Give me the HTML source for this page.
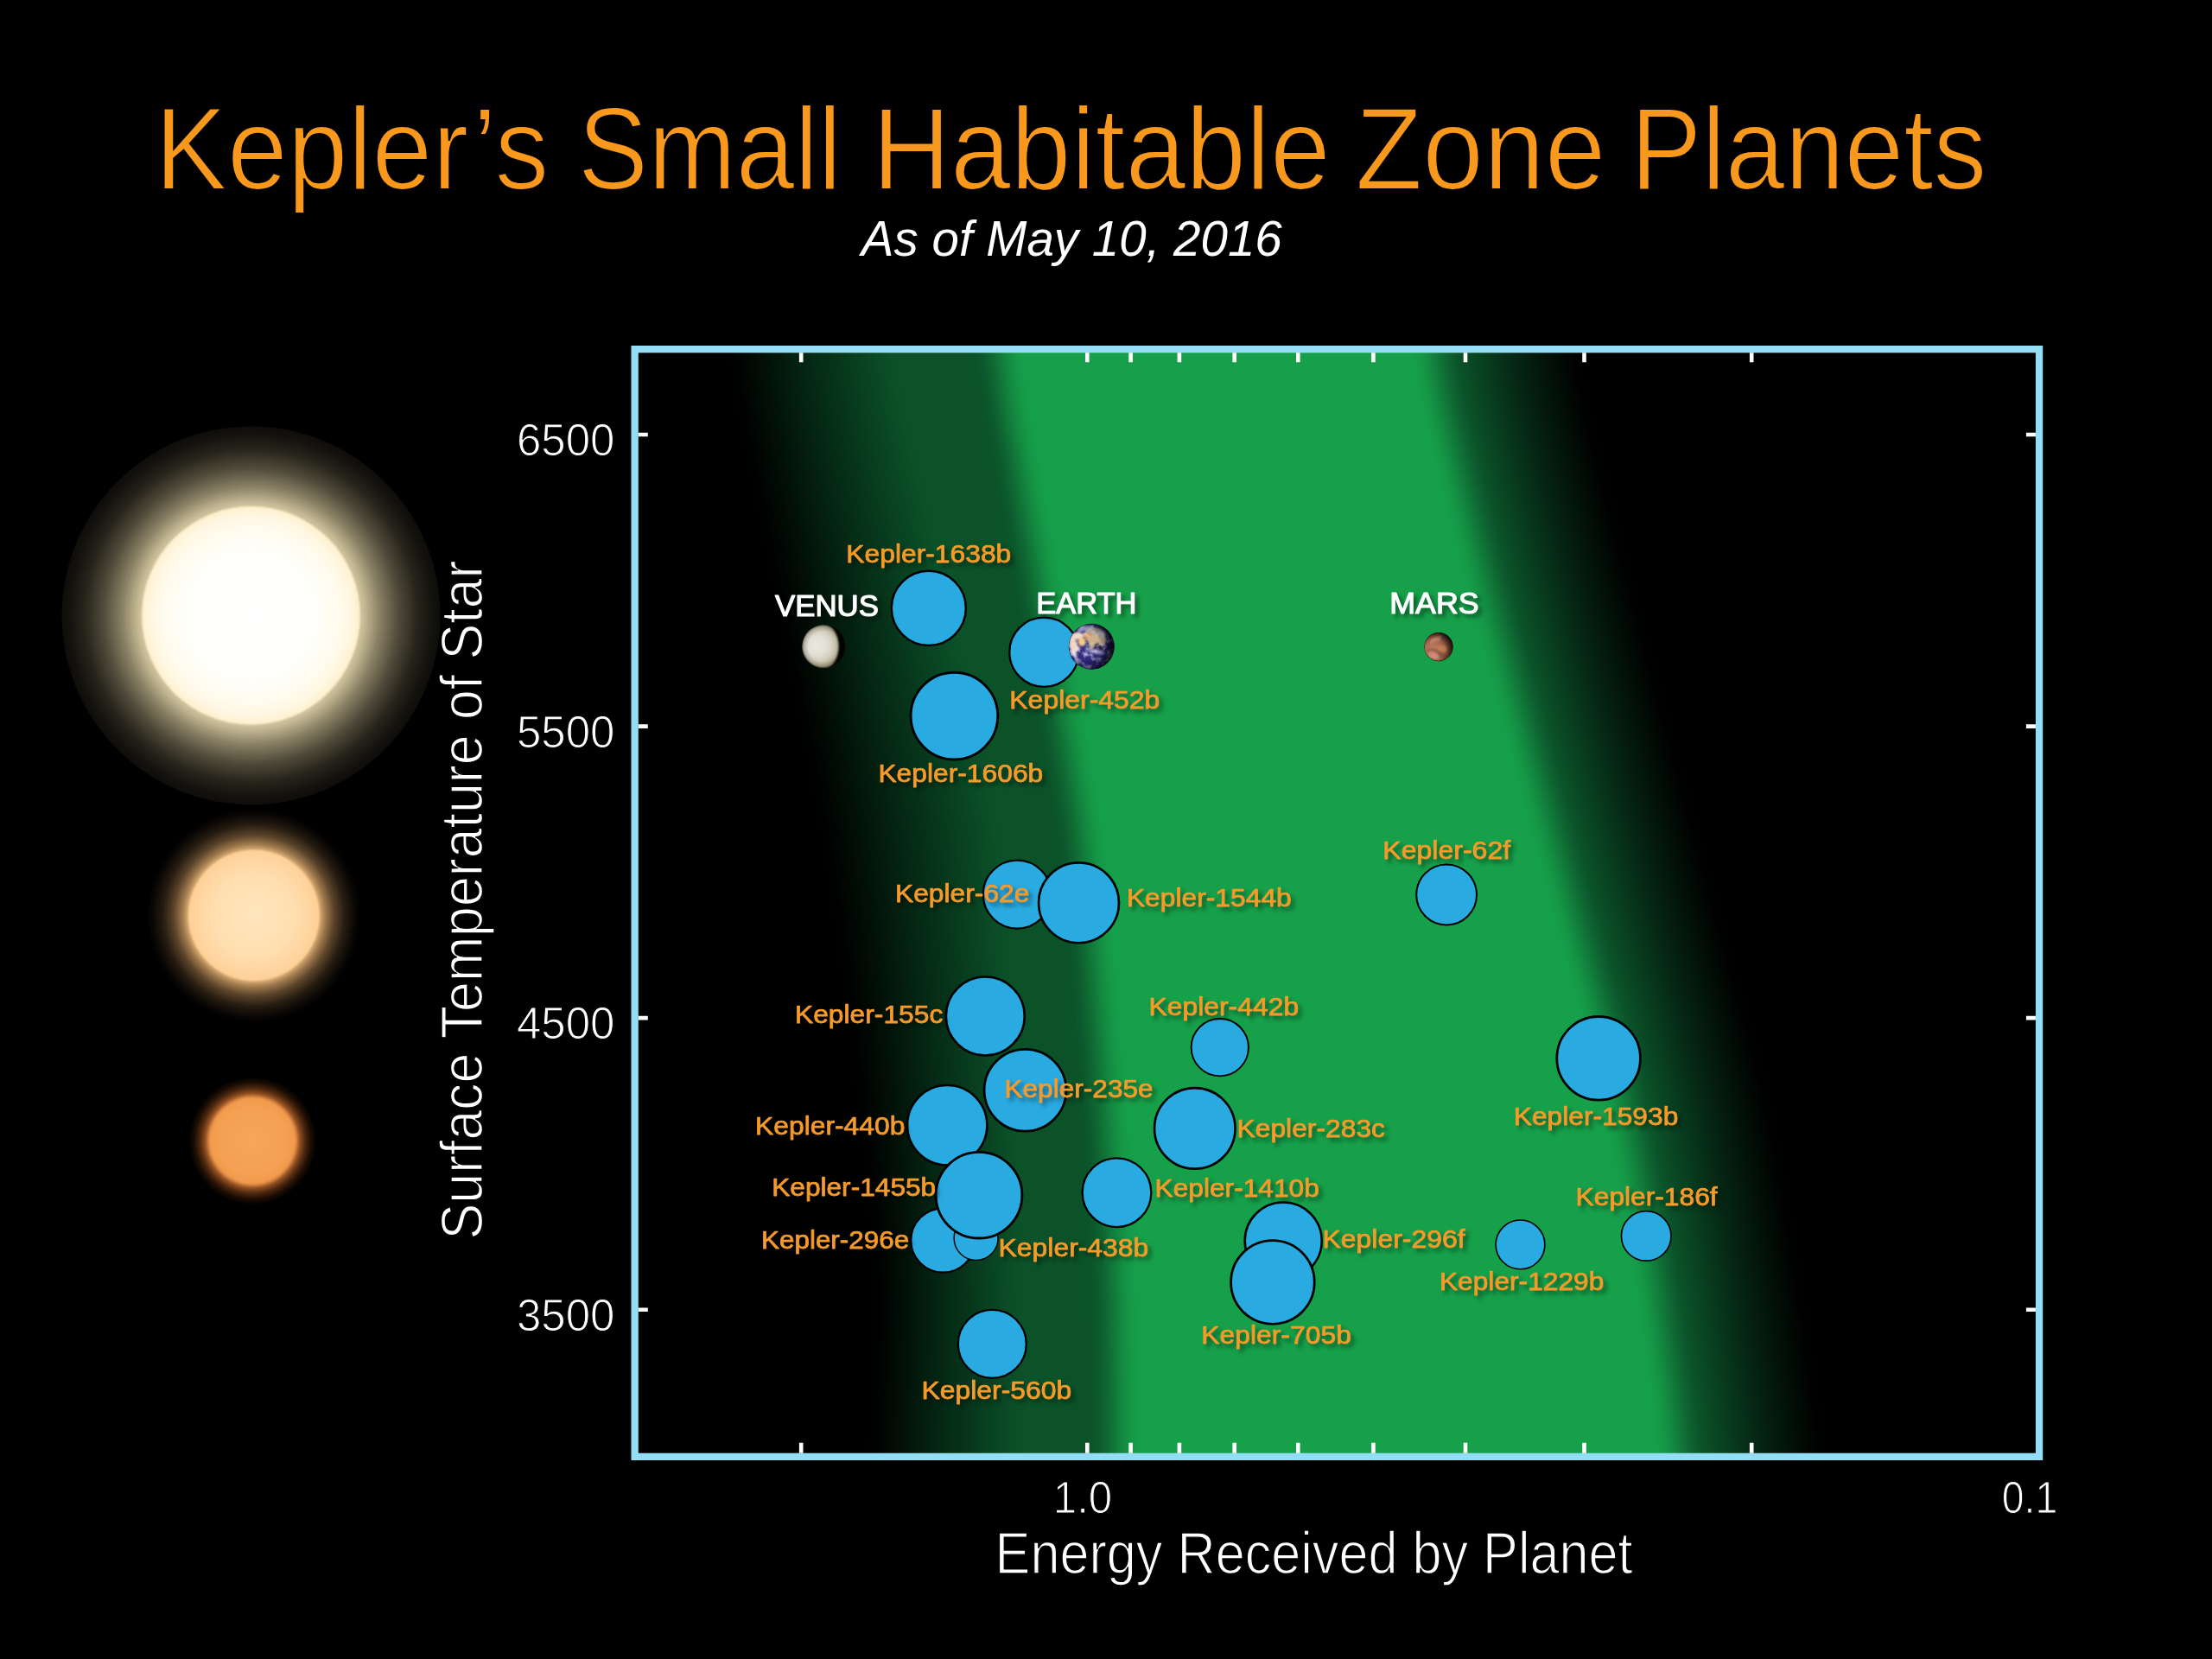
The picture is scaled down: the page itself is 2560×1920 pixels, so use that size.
<!DOCTYPE html>
<html lang="en"><head><meta charset="utf-8"><title>Kepler's Small Habitable Zone Planets</title>
<style>html,body{margin:0;padding:0;background:#000;}body{width:2560px;height:1920px;overflow:hidden;}svg{display:block;}text{font-family:"Liberation Sans",Arial,Helvetica,sans-serif;}</style>
</head><body>
<svg width="2560" height="1920" viewBox="0 0 2560 1920">
<defs>
<radialGradient id="gBigGlow" cx="290.5" cy="712.4" r="219" gradientUnits="userSpaceOnUse">
  <stop offset="0.55" stop-color="#ddd1ab"/>
  <stop offset="0.60" stop-color="#c4b994"/>
  <stop offset="0.68" stop-color="#8a8165"/>
  <stop offset="0.78" stop-color="#504b3a"/>
  <stop offset="0.88" stop-color="#27241b"/>
  <stop offset="0.96" stop-color="#14120e"/>
  <stop offset="1" stop-color="#0e0d0a"/>
</radialGradient>
<radialGradient id="gBigCore" cx="290.5" cy="712.4" r="126.3" gradientUnits="userSpaceOnUse">
  <stop offset="0" stop-color="#ffffff"/>
  <stop offset="0.55" stop-color="#fffffc"/>
  <stop offset="0.8" stop-color="#fffbee"/>
  <stop offset="0.93" stop-color="#fff6df"/>
  <stop offset="1" stop-color="#fff0cc"/>
</radialGradient>
<radialGradient id="gMidGlow" cx="293.8" cy="1059.5" r="124" gradientUnits="userSpaceOnUse">
  <stop offset="0.60" stop-color="#e6b87c"/>
  <stop offset="0.67" stop-color="#9c774b"/>
  <stop offset="0.75" stop-color="#5a432a"/>
  <stop offset="0.85" stop-color="#261c11"/>
  <stop offset="0.94" stop-color="#0b0805"/>
  <stop offset="1" stop-color="#000"/>
</radialGradient>
<radialGradient id="gMidCore" cx="293.8" cy="1059.5" r="75.8" gradientUnits="userSpaceOnUse">
  <stop offset="0" stop-color="#ffe6bd"/>
  <stop offset="0.6" stop-color="#ffdfb0"/>
  <stop offset="1" stop-color="#ffd098"/>
</radialGradient>
<radialGradient id="gSmGlow" cx="292.3" cy="1320.3" r="74" gradientUnits="userSpaceOnUse">
  <stop offset="0.64" stop-color="#e8934b"/>
  <stop offset="0.73" stop-color="#9a5525"/>
  <stop offset="0.82" stop-color="#4f290f"/>
  <stop offset="0.91" stop-color="#1d0e04"/>
  <stop offset="1" stop-color="#000"/>
</radialGradient>
<radialGradient id="gSmCore" cx="292.3" cy="1320.3" r="50.7" gradientUnits="userSpaceOnUse">
  <stop offset="0" stop-color="#f6a65a"/>
  <stop offset="0.7" stop-color="#f5a154"/>
  <stop offset="1" stop-color="#f29a4c"/>
</radialGradient>
<filter color-interpolation-filters="sRGB" id="soft1" x="-10%" y="-10%" width="120%" height="120%"><feGaussianBlur stdDeviation="1.2"/></filter>
<filter color-interpolation-filters="sRGB" id="soft2" x="-10%" y="-10%" width="120%" height="120%"><feGaussianBlur stdDeviation="2.2"/></filter>
<clipPath id="chartClip"><rect x="734" y="404" width="1627" height="1282"/></clipPath>
<filter color-interpolation-filters="sRGB" id="blurV" filterUnits="userSpaceOnUse" x="600" y="200" width="1900" height="1700"><feGaussianBlur stdDeviation="8 10"/></filter>
<filter color-interpolation-filters="sRGB" id="blurOuter" filterUnits="userSpaceOnUse" x="500" y="100" width="2100" height="1900"><feGaussianBlur stdDeviation="38 6"/></filter>
<filter color-interpolation-filters="sRGB" id="blurInner" filterUnits="userSpaceOnUse" x="500" y="100" width="2100" height="1900"><feGaussianBlur stdDeviation="11 4"/></filter>
<filter color-interpolation-filters="sRGB" id="tsh" x="-10%" y="-40%" width="125%" height="200%">
  <feGaussianBlur in="SourceAlpha" stdDeviation="2.9"/>
  <feOffset dx="3.6" dy="3.8" result="b"/>
  <feFlood flood-color="#000" flood-opacity="0.42"/>
  <feComposite in2="b" operator="in"/>
  <feMerge><feMergeNode/><feMergeNode in="SourceGraphic"/></feMerge>
</filter>

<radialGradient id="gVenusL" cx="946" cy="747" r="30" gradientUnits="userSpaceOnUse">
  <stop offset="0" stop-color="#ebe8e0"/>
  <stop offset="0.35" stop-color="#e3e0d6"/>
  <stop offset="0.6" stop-color="#d3cfbf"/>
  <stop offset="0.8" stop-color="#b7b096"/>
  <stop offset="1" stop-color="#857b5c"/>
</radialGradient>
<radialGradient id="gVenusR" cx="953.2" cy="748.2" r="25.2" gradientUnits="userSpaceOnUse">
  <stop offset="0.7" stop-color="#000" stop-opacity="0"/>
  <stop offset="0.9" stop-color="#1a1608" stop-opacity="0.18"/>
  <stop offset="1" stop-color="#000" stop-opacity="0.55"/>
</radialGradient>
<clipPath id="venusClip"><circle cx="953.2" cy="748.2" r="24.9"/></clipPath>
<filter color-interpolation-filters="sRGB" id="vblur" x="-20%" y="-20%" width="140%" height="140%"><feGaussianBlur stdDeviation="1.3"/></filter>
<clipPath id="earthClip"><circle cx="1263.3" cy="748.3" r="26.3"/></clipPath>
<clipPath id="marsClip"><circle cx="1665" cy="748.6" r="16.2"/></clipPath>
<radialGradient id="gEarthSea" cx="1256" cy="752" r="34" gradientUnits="userSpaceOnUse">
  <stop offset="0" stop-color="#33308a"/>
  <stop offset="0.6" stop-color="#2a2574"/>
  <stop offset="1" stop-color="#14113c"/>
</radialGradient>
<radialGradient id="gEarthShade" cx="1254" cy="746" r="38" gradientUnits="userSpaceOnUse">
  <stop offset="0.45" stop-color="#000" stop-opacity="0"/>
  <stop offset="0.72" stop-color="#05031a" stop-opacity="0.45"/>
  <stop offset="0.95" stop-color="#000" stop-opacity="0.9"/>
</radialGradient>
<radialGradient id="gMars" cx="1659" cy="753" r="24" gradientUnits="userSpaceOnUse">
  <stop offset="0" stop-color="#c9866c"/>
  <stop offset="0.45" stop-color="#a8694e"/>
  <stop offset="0.8" stop-color="#6e4031"/>
  <stop offset="1" stop-color="#3a2018"/>
</radialGradient>
<radialGradient id="gMarsShade" cx="1660" cy="752" r="23" gradientUnits="userSpaceOnUse">
  <stop offset="0.55" stop-color="#000" stop-opacity="0"/>
  <stop offset="0.85" stop-color="#000" stop-opacity="0.45"/>
  <stop offset="1" stop-color="#000" stop-opacity="0.8"/>
</radialGradient>
<filter color-interpolation-filters="sRGB" id="eblur" x="-20%" y="-20%" width="140%" height="140%"><feGaussianBlur stdDeviation="0.9"/></filter>
<filter color-interpolation-filters="sRGB" id="enoise" x="0" y="0" width="100%" height="100%">
  <feTurbulence type="fractalNoise" baseFrequency="0.16" numOctaves="3" seed="7" result="n"/>
  <feColorMatrix in="n" type="matrix" values="0 0 0 0 0.92  0 0 0 0 0.90  0 0 0 0 0.95  3.2 0 0 0 -1.45"/>
</filter>

<linearGradient id="bg0" gradientUnits="userSpaceOnUse" x1="700" y1="0" x2="2400" y2="0"><stop offset="0.0872" stop-color="#000"/><stop offset="0.1424" stop-color="#052b15"/><stop offset="0.1975" stop-color="#0B5229"/><stop offset="0.2566" stop-color="#0B5229"/><stop offset="0.2690" stop-color="#117a3a"/><stop offset="0.2813" stop-color="#16A04A"/><stop offset="0.5532" stop-color="#16A04A"/><stop offset="0.5662" stop-color="#117a3a"/><stop offset="0.5791" stop-color="#0B5229"/><stop offset="0.5803" stop-color="#0B5229"/><stop offset="0.6209" stop-color="#052412"/><stop offset="0.6615" stop-color="#000"/></linearGradient>
<linearGradient id="bg1" gradientUnits="userSpaceOnUse" x1="700" y1="0" x2="2400" y2="0"><stop offset="0.0883" stop-color="#000"/><stop offset="0.1435" stop-color="#052b15"/><stop offset="0.1987" stop-color="#0B5229"/><stop offset="0.2576" stop-color="#0B5229"/><stop offset="0.2700" stop-color="#117a3a"/><stop offset="0.2823" stop-color="#16A04A"/><stop offset="0.5546" stop-color="#16A04A"/><stop offset="0.5675" stop-color="#117a3a"/><stop offset="0.5805" stop-color="#0B5229"/><stop offset="0.5816" stop-color="#0B5229"/><stop offset="0.6222" stop-color="#052412"/><stop offset="0.6628" stop-color="#000"/></linearGradient>
<linearGradient id="bg2" gradientUnits="userSpaceOnUse" x1="700" y1="0" x2="2400" y2="0"><stop offset="0.0895" stop-color="#000"/><stop offset="0.1448" stop-color="#052b15"/><stop offset="0.2002" stop-color="#0B5229"/><stop offset="0.2588" stop-color="#0B5229"/><stop offset="0.2711" stop-color="#117a3a"/><stop offset="0.2835" stop-color="#16A04A"/><stop offset="0.5562" stop-color="#16A04A"/><stop offset="0.5691" stop-color="#117a3a"/><stop offset="0.5821" stop-color="#0B5229"/><stop offset="0.5832" stop-color="#0B5229"/><stop offset="0.6238" stop-color="#052412"/><stop offset="0.6644" stop-color="#000"/></linearGradient>
<linearGradient id="bg3" gradientUnits="userSpaceOnUse" x1="700" y1="0" x2="2400" y2="0"><stop offset="0.0910" stop-color="#000"/><stop offset="0.1464" stop-color="#052b15"/><stop offset="0.2019" stop-color="#0B5229"/><stop offset="0.2602" stop-color="#0B5229"/><stop offset="0.2725" stop-color="#117a3a"/><stop offset="0.2849" stop-color="#16A04A"/><stop offset="0.5581" stop-color="#16A04A"/><stop offset="0.5710" stop-color="#117a3a"/><stop offset="0.5839" stop-color="#0B5229"/><stop offset="0.5851" stop-color="#0B5229"/><stop offset="0.6257" stop-color="#052412"/><stop offset="0.6663" stop-color="#000"/></linearGradient>
<linearGradient id="bg4" gradientUnits="userSpaceOnUse" x1="700" y1="0" x2="2400" y2="0"><stop offset="0.0927" stop-color="#000"/><stop offset="0.1483" stop-color="#052b15"/><stop offset="0.2039" stop-color="#0B5229"/><stop offset="0.2618" stop-color="#0B5229"/><stop offset="0.2741" stop-color="#117a3a"/><stop offset="0.2865" stop-color="#16A04A"/><stop offset="0.5602" stop-color="#16A04A"/><stop offset="0.5731" stop-color="#117a3a"/><stop offset="0.5861" stop-color="#0B5229"/><stop offset="0.5873" stop-color="#0B5229"/><stop offset="0.6279" stop-color="#052412"/><stop offset="0.6684" stop-color="#000"/></linearGradient>
<linearGradient id="bg5" gradientUnits="userSpaceOnUse" x1="700" y1="0" x2="2400" y2="0"><stop offset="0.0946" stop-color="#000"/><stop offset="0.1503" stop-color="#052b15"/><stop offset="0.2060" stop-color="#0B5229"/><stop offset="0.2634" stop-color="#0B5229"/><stop offset="0.2758" stop-color="#117a3a"/><stop offset="0.2881" stop-color="#16A04A"/><stop offset="0.5625" stop-color="#16A04A"/><stop offset="0.5754" stop-color="#117a3a"/><stop offset="0.5884" stop-color="#0B5229"/><stop offset="0.5895" stop-color="#0B5229"/><stop offset="0.6301" stop-color="#052412"/><stop offset="0.6707" stop-color="#000"/></linearGradient>
<linearGradient id="bg6" gradientUnits="userSpaceOnUse" x1="700" y1="0" x2="2400" y2="0"><stop offset="0.0965" stop-color="#000"/><stop offset="0.1523" stop-color="#052b15"/><stop offset="0.2082" stop-color="#0B5229"/><stop offset="0.2651" stop-color="#0B5229"/><stop offset="0.2775" stop-color="#117a3a"/><stop offset="0.2898" stop-color="#16A04A"/><stop offset="0.5648" stop-color="#16A04A"/><stop offset="0.5777" stop-color="#117a3a"/><stop offset="0.5906" stop-color="#0B5229"/><stop offset="0.5918" stop-color="#0B5229"/><stop offset="0.6324" stop-color="#052412"/><stop offset="0.6730" stop-color="#000"/></linearGradient>
<linearGradient id="bg7" gradientUnits="userSpaceOnUse" x1="700" y1="0" x2="2400" y2="0"><stop offset="0.0984" stop-color="#000"/><stop offset="0.1544" stop-color="#052b15"/><stop offset="0.2105" stop-color="#0B5229"/><stop offset="0.2668" stop-color="#0B5229"/><stop offset="0.2792" stop-color="#117a3a"/><stop offset="0.2915" stop-color="#16A04A"/><stop offset="0.5670" stop-color="#16A04A"/><stop offset="0.5800" stop-color="#117a3a"/><stop offset="0.5929" stop-color="#0B5229"/><stop offset="0.5941" stop-color="#0B5229"/><stop offset="0.6347" stop-color="#052412"/><stop offset="0.6753" stop-color="#000"/></linearGradient>
<linearGradient id="bg8" gradientUnits="userSpaceOnUse" x1="700" y1="0" x2="2400" y2="0"><stop offset="0.1004" stop-color="#000"/><stop offset="0.1565" stop-color="#052b15"/><stop offset="0.2127" stop-color="#0B5229"/><stop offset="0.2685" stop-color="#0B5229"/><stop offset="0.2809" stop-color="#117a3a"/><stop offset="0.2932" stop-color="#16A04A"/><stop offset="0.5694" stop-color="#16A04A"/><stop offset="0.5823" stop-color="#117a3a"/><stop offset="0.5952" stop-color="#0B5229"/><stop offset="0.5964" stop-color="#0B5229"/><stop offset="0.6370" stop-color="#052412"/><stop offset="0.6776" stop-color="#000"/></linearGradient>
<linearGradient id="bg9" gradientUnits="userSpaceOnUse" x1="700" y1="0" x2="2400" y2="0"><stop offset="0.1023" stop-color="#000"/><stop offset="0.1586" stop-color="#052b15"/><stop offset="0.2150" stop-color="#0B5229"/><stop offset="0.2702" stop-color="#0B5229"/><stop offset="0.2826" stop-color="#117a3a"/><stop offset="0.2949" stop-color="#16A04A"/><stop offset="0.5717" stop-color="#16A04A"/><stop offset="0.5846" stop-color="#117a3a"/><stop offset="0.5976" stop-color="#0B5229"/><stop offset="0.5987" stop-color="#0B5229"/><stop offset="0.6393" stop-color="#052412"/><stop offset="0.6799" stop-color="#000"/></linearGradient>
<linearGradient id="bg10" gradientUnits="userSpaceOnUse" x1="700" y1="0" x2="2400" y2="0"><stop offset="0.1042" stop-color="#000"/><stop offset="0.1607" stop-color="#052b15"/><stop offset="0.2173" stop-color="#0B5229"/><stop offset="0.2719" stop-color="#0B5229"/><stop offset="0.2842" stop-color="#117a3a"/><stop offset="0.2966" stop-color="#16A04A"/><stop offset="0.5740" stop-color="#16A04A"/><stop offset="0.5870" stop-color="#117a3a"/><stop offset="0.5999" stop-color="#0B5229"/><stop offset="0.6011" stop-color="#0B5229"/><stop offset="0.6417" stop-color="#052412"/><stop offset="0.6823" stop-color="#000"/></linearGradient>
<linearGradient id="bg11" gradientUnits="userSpaceOnUse" x1="700" y1="0" x2="2400" y2="0"><stop offset="0.1062" stop-color="#000"/><stop offset="0.1628" stop-color="#052b15"/><stop offset="0.2195" stop-color="#0B5229"/><stop offset="0.2735" stop-color="#0B5229"/><stop offset="0.2859" stop-color="#117a3a"/><stop offset="0.2982" stop-color="#16A04A"/><stop offset="0.5764" stop-color="#16A04A"/><stop offset="0.5893" stop-color="#117a3a"/><stop offset="0.6023" stop-color="#0B5229"/><stop offset="0.6035" stop-color="#0B5229"/><stop offset="0.6441" stop-color="#052412"/><stop offset="0.6846" stop-color="#000"/></linearGradient>
<linearGradient id="bg12" gradientUnits="userSpaceOnUse" x1="700" y1="0" x2="2400" y2="0"><stop offset="0.1081" stop-color="#000"/><stop offset="0.1649" stop-color="#052b15"/><stop offset="0.2218" stop-color="#0B5229"/><stop offset="0.2752" stop-color="#0B5229"/><stop offset="0.2875" stop-color="#117a3a"/><stop offset="0.2999" stop-color="#16A04A"/><stop offset="0.5788" stop-color="#16A04A"/><stop offset="0.5917" stop-color="#117a3a"/><stop offset="0.6047" stop-color="#0B5229"/><stop offset="0.6059" stop-color="#0B5229"/><stop offset="0.6464" stop-color="#052412"/><stop offset="0.6870" stop-color="#000"/></linearGradient>
<linearGradient id="bg13" gradientUnits="userSpaceOnUse" x1="700" y1="0" x2="2400" y2="0"><stop offset="0.1100" stop-color="#000"/><stop offset="0.1670" stop-color="#052b15"/><stop offset="0.2240" stop-color="#0B5229"/><stop offset="0.2768" stop-color="#0B5229"/><stop offset="0.2892" stop-color="#117a3a"/><stop offset="0.3015" stop-color="#16A04A"/><stop offset="0.5812" stop-color="#16A04A"/><stop offset="0.5941" stop-color="#117a3a"/><stop offset="0.6071" stop-color="#0B5229"/><stop offset="0.6083" stop-color="#0B5229"/><stop offset="0.6489" stop-color="#052412"/><stop offset="0.6894" stop-color="#000"/></linearGradient>
<linearGradient id="bg14" gradientUnits="userSpaceOnUse" x1="700" y1="0" x2="2400" y2="0"><stop offset="0.1119" stop-color="#000"/><stop offset="0.1691" stop-color="#052b15"/><stop offset="0.2263" stop-color="#0B5229"/><stop offset="0.2785" stop-color="#0B5229"/><stop offset="0.2908" stop-color="#117a3a"/><stop offset="0.3032" stop-color="#16A04A"/><stop offset="0.5836" stop-color="#16A04A"/><stop offset="0.5966" stop-color="#117a3a"/><stop offset="0.6095" stop-color="#0B5229"/><stop offset="0.6107" stop-color="#0B5229"/><stop offset="0.6513" stop-color="#052412"/><stop offset="0.6919" stop-color="#000"/></linearGradient>
<linearGradient id="bg15" gradientUnits="userSpaceOnUse" x1="700" y1="0" x2="2400" y2="0"><stop offset="0.1138" stop-color="#000"/><stop offset="0.1712" stop-color="#052b15"/><stop offset="0.2286" stop-color="#0B5229"/><stop offset="0.2801" stop-color="#0B5229"/><stop offset="0.2924" stop-color="#117a3a"/><stop offset="0.3048" stop-color="#16A04A"/><stop offset="0.5861" stop-color="#16A04A"/><stop offset="0.5990" stop-color="#117a3a"/><stop offset="0.6120" stop-color="#0B5229"/><stop offset="0.6131" stop-color="#0B5229"/><stop offset="0.6537" stop-color="#052412"/><stop offset="0.6943" stop-color="#000"/></linearGradient>
<linearGradient id="bg16" gradientUnits="userSpaceOnUse" x1="700" y1="0" x2="2400" y2="0"><stop offset="0.1157" stop-color="#000"/><stop offset="0.1732" stop-color="#052b15"/><stop offset="0.2308" stop-color="#0B5229"/><stop offset="0.2817" stop-color="#0B5229"/><stop offset="0.2941" stop-color="#117a3a"/><stop offset="0.3064" stop-color="#16A04A"/><stop offset="0.5885" stop-color="#16A04A"/><stop offset="0.6015" stop-color="#117a3a"/><stop offset="0.6144" stop-color="#0B5229"/><stop offset="0.6156" stop-color="#0B5229"/><stop offset="0.6562" stop-color="#052412"/><stop offset="0.6968" stop-color="#000"/></linearGradient>
<linearGradient id="bg17" gradientUnits="userSpaceOnUse" x1="700" y1="0" x2="2400" y2="0"><stop offset="0.1176" stop-color="#000"/><stop offset="0.1753" stop-color="#052b15"/><stop offset="0.2330" stop-color="#0B5229"/><stop offset="0.2833" stop-color="#0B5229"/><stop offset="0.2957" stop-color="#117a3a"/><stop offset="0.3080" stop-color="#16A04A"/><stop offset="0.5910" stop-color="#16A04A"/><stop offset="0.6039" stop-color="#117a3a"/><stop offset="0.6169" stop-color="#0B5229"/><stop offset="0.6181" stop-color="#0B5229"/><stop offset="0.6586" stop-color="#052412"/><stop offset="0.6992" stop-color="#000"/></linearGradient>
<linearGradient id="bg18" gradientUnits="userSpaceOnUse" x1="700" y1="0" x2="2400" y2="0"><stop offset="0.1195" stop-color="#000"/><stop offset="0.1773" stop-color="#052b15"/><stop offset="0.2352" stop-color="#0B5229"/><stop offset="0.2850" stop-color="#0B5229"/><stop offset="0.2973" stop-color="#117a3a"/><stop offset="0.3097" stop-color="#16A04A"/><stop offset="0.5934" stop-color="#16A04A"/><stop offset="0.6064" stop-color="#117a3a"/><stop offset="0.6193" stop-color="#0B5229"/><stop offset="0.6205" stop-color="#0B5229"/><stop offset="0.6611" stop-color="#052412"/><stop offset="0.7017" stop-color="#000"/></linearGradient>
<linearGradient id="bg19" gradientUnits="userSpaceOnUse" x1="700" y1="0" x2="2400" y2="0"><stop offset="0.1214" stop-color="#000"/><stop offset="0.1793" stop-color="#052b15"/><stop offset="0.2373" stop-color="#0B5229"/><stop offset="0.2866" stop-color="#0B5229"/><stop offset="0.2989" stop-color="#117a3a"/><stop offset="0.3113" stop-color="#16A04A"/><stop offset="0.5959" stop-color="#16A04A"/><stop offset="0.6088" stop-color="#117a3a"/><stop offset="0.6218" stop-color="#0B5229"/><stop offset="0.6230" stop-color="#0B5229"/><stop offset="0.6635" stop-color="#052412"/><stop offset="0.7041" stop-color="#000"/></linearGradient>
<linearGradient id="bg20" gradientUnits="userSpaceOnUse" x1="700" y1="0" x2="2400" y2="0"><stop offset="0.1232" stop-color="#000"/><stop offset="0.1813" stop-color="#052b15"/><stop offset="0.2394" stop-color="#0B5229"/><stop offset="0.2882" stop-color="#0B5229"/><stop offset="0.3005" stop-color="#117a3a"/><stop offset="0.3129" stop-color="#16A04A"/><stop offset="0.5984" stop-color="#16A04A"/><stop offset="0.6113" stop-color="#117a3a"/><stop offset="0.6242" stop-color="#0B5229"/><stop offset="0.6254" stop-color="#0B5229"/><stop offset="0.6660" stop-color="#052412"/><stop offset="0.7066" stop-color="#000"/></linearGradient>
<linearGradient id="bg21" gradientUnits="userSpaceOnUse" x1="700" y1="0" x2="2400" y2="0"><stop offset="0.1251" stop-color="#000"/><stop offset="0.1833" stop-color="#052b15"/><stop offset="0.2416" stop-color="#0B5229"/><stop offset="0.2898" stop-color="#0B5229"/><stop offset="0.3022" stop-color="#117a3a"/><stop offset="0.3145" stop-color="#16A04A"/><stop offset="0.6008" stop-color="#16A04A"/><stop offset="0.6138" stop-color="#117a3a"/><stop offset="0.6267" stop-color="#0B5229"/><stop offset="0.6279" stop-color="#0B5229"/><stop offset="0.6685" stop-color="#052412"/><stop offset="0.7090" stop-color="#000"/></linearGradient>
<linearGradient id="bg22" gradientUnits="userSpaceOnUse" x1="700" y1="0" x2="2400" y2="0"><stop offset="0.1270" stop-color="#000"/><stop offset="0.1853" stop-color="#052b15"/><stop offset="0.2436" stop-color="#0B5229"/><stop offset="0.2914" stop-color="#0B5229"/><stop offset="0.3038" stop-color="#117a3a"/><stop offset="0.3161" stop-color="#16A04A"/><stop offset="0.6033" stop-color="#16A04A"/><stop offset="0.6162" stop-color="#117a3a"/><stop offset="0.6291" stop-color="#0B5229"/><stop offset="0.6303" stop-color="#0B5229"/><stop offset="0.6709" stop-color="#052412"/><stop offset="0.7115" stop-color="#000"/></linearGradient>
<linearGradient id="bg23" gradientUnits="userSpaceOnUse" x1="700" y1="0" x2="2400" y2="0"><stop offset="0.1289" stop-color="#000"/><stop offset="0.1873" stop-color="#052b15"/><stop offset="0.2457" stop-color="#0B5229"/><stop offset="0.2931" stop-color="#0B5229"/><stop offset="0.3054" stop-color="#117a3a"/><stop offset="0.3178" stop-color="#16A04A"/><stop offset="0.6057" stop-color="#16A04A"/><stop offset="0.6187" stop-color="#117a3a"/><stop offset="0.6316" stop-color="#0B5229"/><stop offset="0.6328" stop-color="#0B5229"/><stop offset="0.6734" stop-color="#052412"/><stop offset="0.7140" stop-color="#000"/></linearGradient>
<linearGradient id="bg24" gradientUnits="userSpaceOnUse" x1="700" y1="0" x2="2400" y2="0"><stop offset="0.1307" stop-color="#000"/><stop offset="0.1893" stop-color="#052b15"/><stop offset="0.2478" stop-color="#0B5229"/><stop offset="0.2947" stop-color="#0B5229"/><stop offset="0.3070" stop-color="#117a3a"/><stop offset="0.3194" stop-color="#16A04A"/><stop offset="0.6082" stop-color="#16A04A"/><stop offset="0.6211" stop-color="#117a3a"/><stop offset="0.6341" stop-color="#0B5229"/><stop offset="0.6352" stop-color="#0B5229"/><stop offset="0.6758" stop-color="#052412"/><stop offset="0.7164" stop-color="#000"/></linearGradient>
<linearGradient id="bg25" gradientUnits="userSpaceOnUse" x1="700" y1="0" x2="2400" y2="0"><stop offset="0.1326" stop-color="#000"/><stop offset="0.1912" stop-color="#052b15"/><stop offset="0.2499" stop-color="#0B5229"/><stop offset="0.2963" stop-color="#0B5229"/><stop offset="0.3087" stop-color="#117a3a"/><stop offset="0.3210" stop-color="#16A04A"/><stop offset="0.6106" stop-color="#16A04A"/><stop offset="0.6236" stop-color="#117a3a"/><stop offset="0.6365" stop-color="#0B5229"/><stop offset="0.6377" stop-color="#0B5229"/><stop offset="0.6783" stop-color="#052412"/><stop offset="0.7189" stop-color="#000"/></linearGradient>
<linearGradient id="bg26" gradientUnits="userSpaceOnUse" x1="700" y1="0" x2="2400" y2="0"><stop offset="0.1344" stop-color="#000"/><stop offset="0.1932" stop-color="#052b15"/><stop offset="0.2519" stop-color="#0B5229"/><stop offset="0.2980" stop-color="#0B5229"/><stop offset="0.3103" stop-color="#117a3a"/><stop offset="0.3227" stop-color="#16A04A"/><stop offset="0.6131" stop-color="#16A04A"/><stop offset="0.6260" stop-color="#117a3a"/><stop offset="0.6390" stop-color="#0B5229"/><stop offset="0.6401" stop-color="#0B5229"/><stop offset="0.6807" stop-color="#052412"/><stop offset="0.7213" stop-color="#000"/></linearGradient>
<linearGradient id="bg27" gradientUnits="userSpaceOnUse" x1="700" y1="0" x2="2400" y2="0"><stop offset="0.1363" stop-color="#000"/><stop offset="0.1951" stop-color="#052b15"/><stop offset="0.2540" stop-color="#0B5229"/><stop offset="0.2997" stop-color="#0B5229"/><stop offset="0.3120" stop-color="#117a3a"/><stop offset="0.3244" stop-color="#16A04A"/><stop offset="0.6156" stop-color="#16A04A"/><stop offset="0.6285" stop-color="#117a3a"/><stop offset="0.6414" stop-color="#0B5229"/><stop offset="0.6426" stop-color="#0B5229"/><stop offset="0.6832" stop-color="#052412"/><stop offset="0.7238" stop-color="#000"/></linearGradient>
<linearGradient id="bg28" gradientUnits="userSpaceOnUse" x1="700" y1="0" x2="2400" y2="0"><stop offset="0.1381" stop-color="#000"/><stop offset="0.1971" stop-color="#052b15"/><stop offset="0.2561" stop-color="#0B5229"/><stop offset="0.3013" stop-color="#0B5229"/><stop offset="0.3137" stop-color="#117a3a"/><stop offset="0.3261" stop-color="#16A04A"/><stop offset="0.6180" stop-color="#16A04A"/><stop offset="0.6310" stop-color="#117a3a"/><stop offset="0.6439" stop-color="#0B5229"/><stop offset="0.6451" stop-color="#0B5229"/><stop offset="0.6857" stop-color="#052412"/><stop offset="0.7263" stop-color="#000"/></linearGradient>
<linearGradient id="bg29" gradientUnits="userSpaceOnUse" x1="700" y1="0" x2="2400" y2="0"><stop offset="0.1399" stop-color="#000"/><stop offset="0.1990" stop-color="#052b15"/><stop offset="0.2582" stop-color="#0B5229"/><stop offset="0.3031" stop-color="#0B5229"/><stop offset="0.3154" stop-color="#117a3a"/><stop offset="0.3278" stop-color="#16A04A"/><stop offset="0.6205" stop-color="#16A04A"/><stop offset="0.6335" stop-color="#117a3a"/><stop offset="0.6464" stop-color="#0B5229"/><stop offset="0.6476" stop-color="#0B5229"/><stop offset="0.6882" stop-color="#052412"/><stop offset="0.7287" stop-color="#000"/></linearGradient>
<linearGradient id="bg30" gradientUnits="userSpaceOnUse" x1="700" y1="0" x2="2400" y2="0"><stop offset="0.1417" stop-color="#000"/><stop offset="0.2010" stop-color="#052b15"/><stop offset="0.2602" stop-color="#0B5229"/><stop offset="0.3048" stop-color="#0B5229"/><stop offset="0.3171" stop-color="#117a3a"/><stop offset="0.3295" stop-color="#16A04A"/><stop offset="0.6230" stop-color="#16A04A"/><stop offset="0.6359" stop-color="#117a3a"/><stop offset="0.6489" stop-color="#0B5229"/><stop offset="0.6501" stop-color="#0B5229"/><stop offset="0.6906" stop-color="#052412"/><stop offset="0.7312" stop-color="#000"/></linearGradient>
<linearGradient id="bg31" gradientUnits="userSpaceOnUse" x1="700" y1="0" x2="2400" y2="0"><stop offset="0.1435" stop-color="#000"/><stop offset="0.2028" stop-color="#052b15"/><stop offset="0.2621" stop-color="#0B5229"/><stop offset="0.3064" stop-color="#0B5229"/><stop offset="0.3188" stop-color="#117a3a"/><stop offset="0.3311" stop-color="#16A04A"/><stop offset="0.6255" stop-color="#16A04A"/><stop offset="0.6384" stop-color="#117a3a"/><stop offset="0.6514" stop-color="#0B5229"/><stop offset="0.6526" stop-color="#0B5229"/><stop offset="0.6931" stop-color="#052412"/><stop offset="0.7337" stop-color="#000"/></linearGradient>
<linearGradient id="bg32" gradientUnits="userSpaceOnUse" x1="700" y1="0" x2="2400" y2="0"><stop offset="0.1452" stop-color="#000"/><stop offset="0.2045" stop-color="#052b15"/><stop offset="0.2638" stop-color="#0B5229"/><stop offset="0.3080" stop-color="#0B5229"/><stop offset="0.3203" stop-color="#117a3a"/><stop offset="0.3327" stop-color="#16A04A"/><stop offset="0.6280" stop-color="#16A04A"/><stop offset="0.6409" stop-color="#117a3a"/><stop offset="0.6539" stop-color="#0B5229"/><stop offset="0.6551" stop-color="#0B5229"/><stop offset="0.6956" stop-color="#052412"/><stop offset="0.7362" stop-color="#000"/></linearGradient>
<linearGradient id="bg33" gradientUnits="userSpaceOnUse" x1="700" y1="0" x2="2400" y2="0"><stop offset="0.1469" stop-color="#000"/><stop offset="0.2062" stop-color="#052b15"/><stop offset="0.2654" stop-color="#0B5229"/><stop offset="0.3094" stop-color="#0B5229"/><stop offset="0.3218" stop-color="#117a3a"/><stop offset="0.3341" stop-color="#16A04A"/><stop offset="0.6305" stop-color="#16A04A"/><stop offset="0.6434" stop-color="#117a3a"/><stop offset="0.6564" stop-color="#0B5229"/><stop offset="0.6576" stop-color="#0B5229"/><stop offset="0.6982" stop-color="#052412"/><stop offset="0.7387" stop-color="#000"/></linearGradient>
<linearGradient id="bg34" gradientUnits="userSpaceOnUse" x1="700" y1="0" x2="2400" y2="0"><stop offset="0.1486" stop-color="#000"/><stop offset="0.2077" stop-color="#052b15"/><stop offset="0.2669" stop-color="#0B5229"/><stop offset="0.3108" stop-color="#0B5229"/><stop offset="0.3231" stop-color="#117a3a"/><stop offset="0.3355" stop-color="#16A04A"/><stop offset="0.6330" stop-color="#16A04A"/><stop offset="0.6460" stop-color="#117a3a"/><stop offset="0.6589" stop-color="#0B5229"/><stop offset="0.6601" stop-color="#0B5229"/><stop offset="0.7007" stop-color="#052412"/><stop offset="0.7413" stop-color="#000"/></linearGradient>
<linearGradient id="bg35" gradientUnits="userSpaceOnUse" x1="700" y1="0" x2="2400" y2="0"><stop offset="0.1502" stop-color="#000"/><stop offset="0.2092" stop-color="#052b15"/><stop offset="0.2681" stop-color="#0B5229"/><stop offset="0.3121" stop-color="#0B5229"/><stop offset="0.3244" stop-color="#117a3a"/><stop offset="0.3368" stop-color="#16A04A"/><stop offset="0.6355" stop-color="#16A04A"/><stop offset="0.6485" stop-color="#117a3a"/><stop offset="0.6614" stop-color="#0B5229"/><stop offset="0.6626" stop-color="#0B5229"/><stop offset="0.7032" stop-color="#052412"/><stop offset="0.7438" stop-color="#000"/></linearGradient>
<linearGradient id="bg36" gradientUnits="userSpaceOnUse" x1="700" y1="0" x2="2400" y2="0"><stop offset="0.1518" stop-color="#000"/><stop offset="0.2105" stop-color="#052b15"/><stop offset="0.2693" stop-color="#0B5229"/><stop offset="0.3132" stop-color="#0B5229"/><stop offset="0.3256" stop-color="#117a3a"/><stop offset="0.3379" stop-color="#16A04A"/><stop offset="0.6380" stop-color="#16A04A"/><stop offset="0.6510" stop-color="#117a3a"/><stop offset="0.6639" stop-color="#0B5229"/><stop offset="0.6651" stop-color="#0B5229"/><stop offset="0.7057" stop-color="#052412"/><stop offset="0.7463" stop-color="#000"/></linearGradient>
<linearGradient id="bg37" gradientUnits="userSpaceOnUse" x1="700" y1="0" x2="2400" y2="0"><stop offset="0.1534" stop-color="#000"/><stop offset="0.2118" stop-color="#052b15"/><stop offset="0.2702" stop-color="#0B5229"/><stop offset="0.3142" stop-color="#0B5229"/><stop offset="0.3266" stop-color="#117a3a"/><stop offset="0.3389" stop-color="#16A04A"/><stop offset="0.6405" stop-color="#16A04A"/><stop offset="0.6535" stop-color="#117a3a"/><stop offset="0.6664" stop-color="#0B5229"/><stop offset="0.6676" stop-color="#0B5229"/><stop offset="0.7082" stop-color="#052412"/><stop offset="0.7488" stop-color="#000"/></linearGradient>
<linearGradient id="bg38" gradientUnits="userSpaceOnUse" x1="700" y1="0" x2="2400" y2="0"><stop offset="0.1549" stop-color="#000"/><stop offset="0.2130" stop-color="#052b15"/><stop offset="0.2710" stop-color="#0B5229"/><stop offset="0.3151" stop-color="#0B5229"/><stop offset="0.3275" stop-color="#117a3a"/><stop offset="0.3398" stop-color="#16A04A"/><stop offset="0.6431" stop-color="#16A04A"/><stop offset="0.6560" stop-color="#117a3a"/><stop offset="0.6689" stop-color="#0B5229"/><stop offset="0.6701" stop-color="#0B5229"/><stop offset="0.7107" stop-color="#052412"/><stop offset="0.7513" stop-color="#000"/></linearGradient>
<linearGradient id="bg39" gradientUnits="userSpaceOnUse" x1="700" y1="0" x2="2400" y2="0"><stop offset="0.1564" stop-color="#000"/><stop offset="0.2141" stop-color="#052b15"/><stop offset="0.2718" stop-color="#0B5229"/><stop offset="0.3160" stop-color="#0B5229"/><stop offset="0.3283" stop-color="#117a3a"/><stop offset="0.3407" stop-color="#16A04A"/><stop offset="0.6456" stop-color="#16A04A"/><stop offset="0.6585" stop-color="#117a3a"/><stop offset="0.6714" stop-color="#0B5229"/><stop offset="0.6726" stop-color="#0B5229"/><stop offset="0.7132" stop-color="#052412"/><stop offset="0.7538" stop-color="#000"/></linearGradient>
<linearGradient id="bg40" gradientUnits="userSpaceOnUse" x1="700" y1="0" x2="2400" y2="0"><stop offset="0.1579" stop-color="#000"/><stop offset="0.2152" stop-color="#052b15"/><stop offset="0.2726" stop-color="#0B5229"/><stop offset="0.3168" stop-color="#0B5229"/><stop offset="0.3291" stop-color="#117a3a"/><stop offset="0.3415" stop-color="#16A04A"/><stop offset="0.6481" stop-color="#16A04A"/><stop offset="0.6610" stop-color="#117a3a"/><stop offset="0.6740" stop-color="#0B5229"/><stop offset="0.6751" stop-color="#0B5229"/><stop offset="0.7157" stop-color="#052412"/><stop offset="0.7563" stop-color="#000"/></linearGradient>
<linearGradient id="bg41" gradientUnits="userSpaceOnUse" x1="700" y1="0" x2="2400" y2="0"><stop offset="0.1593" stop-color="#000"/><stop offset="0.2163" stop-color="#052b15"/><stop offset="0.2733" stop-color="#0B5229"/><stop offset="0.3176" stop-color="#0B5229"/><stop offset="0.3299" stop-color="#117a3a"/><stop offset="0.3423" stop-color="#16A04A"/><stop offset="0.6506" stop-color="#16A04A"/><stop offset="0.6635" stop-color="#117a3a"/><stop offset="0.6765" stop-color="#0B5229"/><stop offset="0.6777" stop-color="#0B5229"/><stop offset="0.7182" stop-color="#052412"/><stop offset="0.7588" stop-color="#000"/></linearGradient>
<linearGradient id="bg42" gradientUnits="userSpaceOnUse" x1="700" y1="0" x2="2400" y2="0"><stop offset="0.1607" stop-color="#000"/><stop offset="0.2173" stop-color="#052b15"/><stop offset="0.2739" stop-color="#0B5229"/><stop offset="0.3183" stop-color="#0B5229"/><stop offset="0.3307" stop-color="#117a3a"/><stop offset="0.3430" stop-color="#16A04A"/><stop offset="0.6531" stop-color="#16A04A"/><stop offset="0.6661" stop-color="#117a3a"/><stop offset="0.6790" stop-color="#0B5229"/><stop offset="0.6802" stop-color="#0B5229"/><stop offset="0.7208" stop-color="#052412"/><stop offset="0.7614" stop-color="#000"/></linearGradient>
<linearGradient id="bg43" gradientUnits="userSpaceOnUse" x1="700" y1="0" x2="2400" y2="0"><stop offset="0.1620" stop-color="#000"/><stop offset="0.2183" stop-color="#052b15"/><stop offset="0.2745" stop-color="#0B5229"/><stop offset="0.3191" stop-color="#0B5229"/><stop offset="0.3314" stop-color="#117a3a"/><stop offset="0.3438" stop-color="#16A04A"/><stop offset="0.6557" stop-color="#16A04A"/><stop offset="0.6687" stop-color="#117a3a"/><stop offset="0.6816" stop-color="#0B5229"/><stop offset="0.6828" stop-color="#0B5229"/><stop offset="0.7234" stop-color="#052412"/><stop offset="0.7640" stop-color="#000"/></linearGradient>
<linearGradient id="bg44" gradientUnits="userSpaceOnUse" x1="700" y1="0" x2="2400" y2="0"><stop offset="0.1633" stop-color="#000"/><stop offset="0.2192" stop-color="#052b15"/><stop offset="0.2751" stop-color="#0B5229"/><stop offset="0.3198" stop-color="#0B5229"/><stop offset="0.3322" stop-color="#117a3a"/><stop offset="0.3445" stop-color="#16A04A"/><stop offset="0.6583" stop-color="#16A04A"/><stop offset="0.6712" stop-color="#117a3a"/><stop offset="0.6842" stop-color="#0B5229"/><stop offset="0.6854" stop-color="#0B5229"/><stop offset="0.7260" stop-color="#052412"/><stop offset="0.7665" stop-color="#000"/></linearGradient>
<linearGradient id="bg45" gradientUnits="userSpaceOnUse" x1="700" y1="0" x2="2400" y2="0"><stop offset="0.1645" stop-color="#000"/><stop offset="0.2201" stop-color="#052b15"/><stop offset="0.2756" stop-color="#0B5229"/><stop offset="0.3206" stop-color="#0B5229"/><stop offset="0.3330" stop-color="#117a3a"/><stop offset="0.3453" stop-color="#16A04A"/><stop offset="0.6609" stop-color="#16A04A"/><stop offset="0.6739" stop-color="#117a3a"/><stop offset="0.6868" stop-color="#0B5229"/><stop offset="0.6880" stop-color="#0B5229"/><stop offset="0.7286" stop-color="#052412"/><stop offset="0.7692" stop-color="#000"/></linearGradient>
<linearGradient id="bg46" gradientUnits="userSpaceOnUse" x1="700" y1="0" x2="2400" y2="0"><stop offset="0.1657" stop-color="#000"/><stop offset="0.2209" stop-color="#052b15"/><stop offset="0.2761" stop-color="#0B5229"/><stop offset="0.3214" stop-color="#0B5229"/><stop offset="0.3337" stop-color="#117a3a"/><stop offset="0.3461" stop-color="#16A04A"/><stop offset="0.6636" stop-color="#16A04A"/><stop offset="0.6765" stop-color="#117a3a"/><stop offset="0.6894" stop-color="#0B5229"/><stop offset="0.6906" stop-color="#0B5229"/><stop offset="0.7312" stop-color="#052412"/><stop offset="0.7718" stop-color="#000"/></linearGradient>
<linearGradient id="bg47" gradientUnits="userSpaceOnUse" x1="700" y1="0" x2="2400" y2="0"><stop offset="0.1669" stop-color="#000"/><stop offset="0.2217" stop-color="#052b15"/><stop offset="0.2765" stop-color="#0B5229"/><stop offset="0.3221" stop-color="#0B5229"/><stop offset="0.3345" stop-color="#117a3a"/><stop offset="0.3469" stop-color="#16A04A"/><stop offset="0.6662" stop-color="#16A04A"/><stop offset="0.6791" stop-color="#117a3a"/><stop offset="0.6921" stop-color="#0B5229"/><stop offset="0.6933" stop-color="#0B5229"/><stop offset="0.7339" stop-color="#052412"/><stop offset="0.7744" stop-color="#000"/></linearGradient>
<linearGradient id="bg48" gradientUnits="userSpaceOnUse" x1="700" y1="0" x2="2400" y2="0"><stop offset="0.1680" stop-color="#000"/><stop offset="0.2224" stop-color="#052b15"/><stop offset="0.2768" stop-color="#0B5229"/><stop offset="0.3229" stop-color="#0B5229"/><stop offset="0.3353" stop-color="#117a3a"/><stop offset="0.3476" stop-color="#16A04A"/><stop offset="0.6688" stop-color="#16A04A"/><stop offset="0.6818" stop-color="#117a3a"/><stop offset="0.6947" stop-color="#0B5229"/><stop offset="0.6959" stop-color="#0B5229"/><stop offset="0.7365" stop-color="#052412"/><stop offset="0.7771" stop-color="#000"/></linearGradient>
<linearGradient id="bg49" gradientUnits="userSpaceOnUse" x1="700" y1="0" x2="2400" y2="0"><stop offset="0.1691" stop-color="#000"/><stop offset="0.2231" stop-color="#052b15"/><stop offset="0.2772" stop-color="#0B5229"/><stop offset="0.3237" stop-color="#0B5229"/><stop offset="0.3361" stop-color="#117a3a"/><stop offset="0.3484" stop-color="#16A04A"/><stop offset="0.6714" stop-color="#16A04A"/><stop offset="0.6843" stop-color="#117a3a"/><stop offset="0.6972" stop-color="#0B5229"/><stop offset="0.6984" stop-color="#0B5229"/><stop offset="0.7390" stop-color="#052412"/><stop offset="0.7796" stop-color="#000"/></linearGradient>
<linearGradient id="bg50" gradientUnits="userSpaceOnUse" x1="700" y1="0" x2="2400" y2="0"><stop offset="0.1702" stop-color="#000"/><stop offset="0.2238" stop-color="#052b15"/><stop offset="0.2775" stop-color="#0B5229"/><stop offset="0.3245" stop-color="#0B5229"/><stop offset="0.3369" stop-color="#117a3a"/><stop offset="0.3492" stop-color="#16A04A"/><stop offset="0.6738" stop-color="#16A04A"/><stop offset="0.6868" stop-color="#117a3a"/><stop offset="0.6997" stop-color="#0B5229"/><stop offset="0.7009" stop-color="#0B5229"/><stop offset="0.7415" stop-color="#052412"/><stop offset="0.7821" stop-color="#000"/></linearGradient>
<linearGradient id="bg51" gradientUnits="userSpaceOnUse" x1="700" y1="0" x2="2400" y2="0"><stop offset="0.1713" stop-color="#000"/><stop offset="0.2246" stop-color="#052b15"/><stop offset="0.2778" stop-color="#0B5229"/><stop offset="0.3253" stop-color="#0B5229"/><stop offset="0.3377" stop-color="#117a3a"/><stop offset="0.3500" stop-color="#16A04A"/><stop offset="0.6762" stop-color="#16A04A"/><stop offset="0.6891" stop-color="#117a3a"/><stop offset="0.7021" stop-color="#0B5229"/><stop offset="0.7033" stop-color="#0B5229"/><stop offset="0.7439" stop-color="#052412"/><stop offset="0.7844" stop-color="#000"/></linearGradient>
<linearGradient id="bg52" gradientUnits="userSpaceOnUse" x1="700" y1="0" x2="2400" y2="0"><stop offset="0.1724" stop-color="#000"/><stop offset="0.2253" stop-color="#052b15"/><stop offset="0.2782" stop-color="#0B5229"/><stop offset="0.3261" stop-color="#0B5229"/><stop offset="0.3385" stop-color="#117a3a"/><stop offset="0.3508" stop-color="#16A04A"/><stop offset="0.6785" stop-color="#16A04A"/><stop offset="0.6914" stop-color="#117a3a"/><stop offset="0.7044" stop-color="#0B5229"/><stop offset="0.7056" stop-color="#0B5229"/><stop offset="0.7461" stop-color="#052412"/><stop offset="0.7867" stop-color="#000"/></linearGradient>
<linearGradient id="bg53" gradientUnits="userSpaceOnUse" x1="700" y1="0" x2="2400" y2="0"><stop offset="0.1735" stop-color="#000"/><stop offset="0.2260" stop-color="#052b15"/><stop offset="0.2785" stop-color="#0B5229"/><stop offset="0.3268" stop-color="#0B5229"/><stop offset="0.3392" stop-color="#117a3a"/><stop offset="0.3516" stop-color="#16A04A"/><stop offset="0.6807" stop-color="#16A04A"/><stop offset="0.6936" stop-color="#117a3a"/><stop offset="0.7066" stop-color="#0B5229"/><stop offset="0.7078" stop-color="#0B5229"/><stop offset="0.7483" stop-color="#052412"/><stop offset="0.7889" stop-color="#000"/></linearGradient>
<linearGradient id="bg54" gradientUnits="userSpaceOnUse" x1="700" y1="0" x2="2400" y2="0"><stop offset="0.1746" stop-color="#000"/><stop offset="0.2267" stop-color="#052b15"/><stop offset="0.2789" stop-color="#0B5229"/><stop offset="0.3275" stop-color="#0B5229"/><stop offset="0.3399" stop-color="#117a3a"/><stop offset="0.3523" stop-color="#16A04A"/><stop offset="0.6828" stop-color="#16A04A"/><stop offset="0.6958" stop-color="#117a3a"/><stop offset="0.7087" stop-color="#0B5229"/><stop offset="0.7099" stop-color="#0B5229"/><stop offset="0.7505" stop-color="#052412"/><stop offset="0.7910" stop-color="#000"/></linearGradient>
<linearGradient id="bg55" gradientUnits="userSpaceOnUse" x1="700" y1="0" x2="2400" y2="0"><stop offset="0.1757" stop-color="#000"/><stop offset="0.2274" stop-color="#052b15"/><stop offset="0.2792" stop-color="#0B5229"/><stop offset="0.3282" stop-color="#0B5229"/><stop offset="0.3406" stop-color="#117a3a"/><stop offset="0.3529" stop-color="#16A04A"/><stop offset="0.6848" stop-color="#16A04A"/><stop offset="0.6978" stop-color="#117a3a"/><stop offset="0.7107" stop-color="#0B5229"/><stop offset="0.7119" stop-color="#0B5229"/><stop offset="0.7525" stop-color="#052412"/><stop offset="0.7930" stop-color="#000"/></linearGradient>
<linearGradient id="bg56" gradientUnits="userSpaceOnUse" x1="700" y1="0" x2="2400" y2="0"><stop offset="0.1767" stop-color="#000"/><stop offset="0.2281" stop-color="#052b15"/><stop offset="0.2795" stop-color="#0B5229"/><stop offset="0.3288" stop-color="#0B5229"/><stop offset="0.3412" stop-color="#117a3a"/><stop offset="0.3535" stop-color="#16A04A"/><stop offset="0.6867" stop-color="#16A04A"/><stop offset="0.6996" stop-color="#117a3a"/><stop offset="0.7126" stop-color="#0B5229"/><stop offset="0.7138" stop-color="#0B5229"/><stop offset="0.7543" stop-color="#052412"/><stop offset="0.7949" stop-color="#000"/></linearGradient>
<linearGradient id="bg57" gradientUnits="userSpaceOnUse" x1="700" y1="0" x2="2400" y2="0"><stop offset="0.1777" stop-color="#000"/><stop offset="0.2287" stop-color="#052b15"/><stop offset="0.2798" stop-color="#0B5229"/><stop offset="0.3294" stop-color="#0B5229"/><stop offset="0.3418" stop-color="#117a3a"/><stop offset="0.3541" stop-color="#16A04A"/><stop offset="0.6885" stop-color="#16A04A"/><stop offset="0.7015" stop-color="#117a3a"/><stop offset="0.7144" stop-color="#0B5229"/><stop offset="0.7156" stop-color="#0B5229"/><stop offset="0.7562" stop-color="#052412"/><stop offset="0.7968" stop-color="#000"/></linearGradient>
<linearGradient id="bg58" gradientUnits="userSpaceOnUse" x1="700" y1="0" x2="2400" y2="0"><stop offset="0.1788" stop-color="#000"/><stop offset="0.2294" stop-color="#052b15"/><stop offset="0.2800" stop-color="#0B5229"/><stop offset="0.3300" stop-color="#0B5229"/><stop offset="0.3423" stop-color="#117a3a"/><stop offset="0.3547" stop-color="#16A04A"/><stop offset="0.6903" stop-color="#16A04A"/><stop offset="0.7033" stop-color="#117a3a"/><stop offset="0.7162" stop-color="#0B5229"/><stop offset="0.7174" stop-color="#0B5229"/><stop offset="0.7580" stop-color="#052412"/><stop offset="0.7985" stop-color="#000"/></linearGradient>
<linearGradient id="bg59" gradientUnits="userSpaceOnUse" x1="700" y1="0" x2="2400" y2="0"><stop offset="0.1797" stop-color="#000"/><stop offset="0.2300" stop-color="#052b15"/><stop offset="0.2802" stop-color="#0B5229"/><stop offset="0.3305" stop-color="#0B5229"/><stop offset="0.3428" stop-color="#117a3a"/><stop offset="0.3552" stop-color="#16A04A"/><stop offset="0.6920" stop-color="#16A04A"/><stop offset="0.7050" stop-color="#117a3a"/><stop offset="0.7179" stop-color="#0B5229"/><stop offset="0.7191" stop-color="#0B5229"/><stop offset="0.7597" stop-color="#052412"/><stop offset="0.8003" stop-color="#000"/></linearGradient>
<linearGradient id="bg60" gradientUnits="userSpaceOnUse" x1="700" y1="0" x2="2400" y2="0"><stop offset="0.1807" stop-color="#000"/><stop offset="0.2306" stop-color="#052b15"/><stop offset="0.2805" stop-color="#0B5229"/><stop offset="0.3309" stop-color="#0B5229"/><stop offset="0.3433" stop-color="#117a3a"/><stop offset="0.3556" stop-color="#16A04A"/><stop offset="0.6937" stop-color="#16A04A"/><stop offset="0.7066" stop-color="#117a3a"/><stop offset="0.7196" stop-color="#0B5229"/><stop offset="0.7208" stop-color="#0B5229"/><stop offset="0.7613" stop-color="#052412"/><stop offset="0.8019" stop-color="#000"/></linearGradient>
<linearGradient id="bg61" gradientUnits="userSpaceOnUse" x1="700" y1="0" x2="2400" y2="0"><stop offset="0.1816" stop-color="#000"/><stop offset="0.2311" stop-color="#052b15"/><stop offset="0.2807" stop-color="#0B5229"/><stop offset="0.3314" stop-color="#0B5229"/><stop offset="0.3437" stop-color="#117a3a"/><stop offset="0.3561" stop-color="#16A04A"/><stop offset="0.6953" stop-color="#16A04A"/><stop offset="0.7083" stop-color="#117a3a"/><stop offset="0.7212" stop-color="#0B5229"/><stop offset="0.7224" stop-color="#0B5229"/><stop offset="0.7630" stop-color="#052412"/><stop offset="0.8036" stop-color="#000"/></linearGradient>
<linearGradient id="bg62" gradientUnits="userSpaceOnUse" x1="700" y1="0" x2="2400" y2="0"><stop offset="0.1825" stop-color="#000"/><stop offset="0.2317" stop-color="#052b15"/><stop offset="0.2808" stop-color="#0B5229"/><stop offset="0.3319" stop-color="#0B5229"/><stop offset="0.3442" stop-color="#117a3a"/><stop offset="0.3566" stop-color="#16A04A"/><stop offset="0.6969" stop-color="#16A04A"/><stop offset="0.7098" stop-color="#117a3a"/><stop offset="0.7228" stop-color="#0B5229"/><stop offset="0.7239" stop-color="#0B5229"/><stop offset="0.7645" stop-color="#052412"/><stop offset="0.8051" stop-color="#000"/></linearGradient>
<linearGradient id="bg63" gradientUnits="userSpaceOnUse" x1="700" y1="0" x2="2400" y2="0"><stop offset="0.1835" stop-color="#000"/><stop offset="0.2322" stop-color="#052b15"/><stop offset="0.2810" stop-color="#0B5229"/><stop offset="0.3323" stop-color="#0B5229"/><stop offset="0.3447" stop-color="#117a3a"/><stop offset="0.3570" stop-color="#16A04A"/><stop offset="0.6984" stop-color="#16A04A"/><stop offset="0.7113" stop-color="#117a3a"/><stop offset="0.7243" stop-color="#0B5229"/><stop offset="0.7254" stop-color="#0B5229"/><stop offset="0.7660" stop-color="#052412"/><stop offset="0.8066" stop-color="#000"/></linearGradient>
<linearGradient id="bg64" gradientUnits="userSpaceOnUse" x1="700" y1="0" x2="2400" y2="0"><stop offset="0.1843" stop-color="#000"/><stop offset="0.2328" stop-color="#052b15"/><stop offset="0.2812" stop-color="#0B5229"/><stop offset="0.3328" stop-color="#0B5229"/><stop offset="0.3451" stop-color="#117a3a"/><stop offset="0.3575" stop-color="#16A04A"/><stop offset="0.6999" stop-color="#16A04A"/><stop offset="0.7128" stop-color="#117a3a"/><stop offset="0.7258" stop-color="#0B5229"/><stop offset="0.7270" stop-color="#0B5229"/><stop offset="0.7675" stop-color="#052412"/><stop offset="0.8081" stop-color="#000"/></linearGradient>
<linearGradient id="bg65" gradientUnits="userSpaceOnUse" x1="700" y1="0" x2="2400" y2="0"><stop offset="0.1851" stop-color="#000"/><stop offset="0.2332" stop-color="#052b15"/><stop offset="0.2814" stop-color="#0B5229"/><stop offset="0.3332" stop-color="#0B5229"/><stop offset="0.3456" stop-color="#117a3a"/><stop offset="0.3579" stop-color="#16A04A"/><stop offset="0.7014" stop-color="#16A04A"/><stop offset="0.7143" stop-color="#117a3a"/><stop offset="0.7273" stop-color="#0B5229"/><stop offset="0.7285" stop-color="#0B5229"/><stop offset="0.7690" stop-color="#052412"/><stop offset="0.8096" stop-color="#000"/></linearGradient>
<linearGradient id="bg66" gradientUnits="userSpaceOnUse" x1="700" y1="0" x2="2400" y2="0"><stop offset="0.1856" stop-color="#000"/><stop offset="0.2336" stop-color="#052b15"/><stop offset="0.2815" stop-color="#0B5229"/><stop offset="0.3336" stop-color="#0B5229"/><stop offset="0.3459" stop-color="#117a3a"/><stop offset="0.3583" stop-color="#16A04A"/><stop offset="0.7029" stop-color="#16A04A"/><stop offset="0.7158" stop-color="#117a3a"/><stop offset="0.7288" stop-color="#0B5229"/><stop offset="0.7300" stop-color="#0B5229"/><stop offset="0.7705" stop-color="#052412"/><stop offset="0.8111" stop-color="#000"/></linearGradient>
<linearGradient id="bg67" gradientUnits="userSpaceOnUse" x1="700" y1="0" x2="2400" y2="0"><stop offset="0.1860" stop-color="#000"/><stop offset="0.2338" stop-color="#052b15"/><stop offset="0.2817" stop-color="#0B5229"/><stop offset="0.3339" stop-color="#0B5229"/><stop offset="0.3463" stop-color="#117a3a"/><stop offset="0.3586" stop-color="#16A04A"/><stop offset="0.7044" stop-color="#16A04A"/><stop offset="0.7173" stop-color="#117a3a"/><stop offset="0.7302" stop-color="#0B5229"/><stop offset="0.7314" stop-color="#0B5229"/><stop offset="0.7720" stop-color="#052412"/><stop offset="0.8126" stop-color="#000"/></linearGradient>
<linearGradient id="bg68" gradientUnits="userSpaceOnUse" x1="700" y1="0" x2="2400" y2="0"><stop offset="0.1862" stop-color="#000"/><stop offset="0.2340" stop-color="#052b15"/><stop offset="0.2819" stop-color="#0B5229"/><stop offset="0.3342" stop-color="#0B5229"/><stop offset="0.3466" stop-color="#117a3a"/><stop offset="0.3589" stop-color="#16A04A"/><stop offset="0.7058" stop-color="#16A04A"/><stop offset="0.7188" stop-color="#117a3a"/><stop offset="0.7317" stop-color="#0B5229"/><stop offset="0.7329" stop-color="#0B5229"/><stop offset="0.7735" stop-color="#052412"/><stop offset="0.8140" stop-color="#000"/></linearGradient>
<linearGradient id="bg69" gradientUnits="userSpaceOnUse" x1="700" y1="0" x2="2400" y2="0"><stop offset="0.1862" stop-color="#000"/><stop offset="0.2341" stop-color="#052b15"/><stop offset="0.2821" stop-color="#0B5229"/><stop offset="0.3345" stop-color="#0B5229"/><stop offset="0.3468" stop-color="#117a3a"/><stop offset="0.3592" stop-color="#16A04A"/><stop offset="0.7072" stop-color="#16A04A"/><stop offset="0.7202" stop-color="#117a3a"/><stop offset="0.7331" stop-color="#0B5229"/><stop offset="0.7343" stop-color="#0B5229"/><stop offset="0.7749" stop-color="#052412"/><stop offset="0.8155" stop-color="#000"/></linearGradient>
<linearGradient id="bg70" gradientUnits="userSpaceOnUse" x1="700" y1="0" x2="2400" y2="0"><stop offset="0.1860" stop-color="#000"/><stop offset="0.2341" stop-color="#052b15"/><stop offset="0.2822" stop-color="#0B5229"/><stop offset="0.3347" stop-color="#0B5229"/><stop offset="0.3470" stop-color="#117a3a"/><stop offset="0.3594" stop-color="#16A04A"/><stop offset="0.7086" stop-color="#16A04A"/><stop offset="0.7216" stop-color="#117a3a"/><stop offset="0.7345" stop-color="#0B5229"/><stop offset="0.7357" stop-color="#0B5229"/><stop offset="0.7763" stop-color="#052412"/><stop offset="0.8169" stop-color="#000"/></linearGradient>
<linearGradient id="bg71" gradientUnits="userSpaceOnUse" x1="700" y1="0" x2="2400" y2="0"><stop offset="0.1857" stop-color="#000"/><stop offset="0.2341" stop-color="#052b15"/><stop offset="0.2824" stop-color="#0B5229"/><stop offset="0.3348" stop-color="#0B5229"/><stop offset="0.3472" stop-color="#117a3a"/><stop offset="0.3595" stop-color="#16A04A"/><stop offset="0.7100" stop-color="#16A04A"/><stop offset="0.7230" stop-color="#117a3a"/><stop offset="0.7359" stop-color="#0B5229"/><stop offset="0.7371" stop-color="#0B5229"/><stop offset="0.7777" stop-color="#052412"/><stop offset="0.8182" stop-color="#000"/></linearGradient>
<linearGradient id="bg72" gradientUnits="userSpaceOnUse" x1="700" y1="0" x2="2400" y2="0"><stop offset="0.1852" stop-color="#000"/><stop offset="0.2339" stop-color="#052b15"/><stop offset="0.2826" stop-color="#0B5229"/><stop offset="0.3349" stop-color="#0B5229"/><stop offset="0.3473" stop-color="#117a3a"/><stop offset="0.3596" stop-color="#16A04A"/><stop offset="0.7114" stop-color="#16A04A"/><stop offset="0.7243" stop-color="#117a3a"/><stop offset="0.7372" stop-color="#0B5229"/><stop offset="0.7384" stop-color="#0B5229"/><stop offset="0.7790" stop-color="#052412"/><stop offset="0.8196" stop-color="#000"/></linearGradient>
<linearGradient id="bg73" gradientUnits="userSpaceOnUse" x1="700" y1="0" x2="2400" y2="0"><stop offset="0.1847" stop-color="#000"/><stop offset="0.2337" stop-color="#052b15"/><stop offset="0.2828" stop-color="#0B5229"/><stop offset="0.3350" stop-color="#0B5229"/><stop offset="0.3473" stop-color="#117a3a"/><stop offset="0.3597" stop-color="#16A04A"/><stop offset="0.7127" stop-color="#16A04A"/><stop offset="0.7256" stop-color="#117a3a"/><stop offset="0.7386" stop-color="#0B5229"/><stop offset="0.7397" stop-color="#0B5229"/><stop offset="0.7803" stop-color="#052412"/><stop offset="0.8209" stop-color="#000"/></linearGradient>
<linearGradient id="bg74" gradientUnits="userSpaceOnUse" x1="700" y1="0" x2="2400" y2="0"><stop offset="0.1841" stop-color="#000"/><stop offset="0.2336" stop-color="#052b15"/><stop offset="0.2830" stop-color="#0B5229"/><stop offset="0.3350" stop-color="#0B5229"/><stop offset="0.3474" stop-color="#117a3a"/><stop offset="0.3597" stop-color="#16A04A"/><stop offset="0.7140" stop-color="#16A04A"/><stop offset="0.7269" stop-color="#117a3a"/><stop offset="0.7399" stop-color="#0B5229"/><stop offset="0.7410" stop-color="#0B5229"/><stop offset="0.7816" stop-color="#052412"/><stop offset="0.8222" stop-color="#000"/></linearGradient>
<linearGradient id="bg75" gradientUnits="userSpaceOnUse" x1="700" y1="0" x2="2400" y2="0"><stop offset="0.1836" stop-color="#000"/><stop offset="0.2334" stop-color="#052b15"/><stop offset="0.2832" stop-color="#0B5229"/><stop offset="0.3351" stop-color="#0B5229"/><stop offset="0.3474" stop-color="#117a3a"/><stop offset="0.3598" stop-color="#16A04A"/><stop offset="0.7153" stop-color="#16A04A"/><stop offset="0.7282" stop-color="#117a3a"/><stop offset="0.7411" stop-color="#0B5229"/><stop offset="0.7423" stop-color="#0B5229"/><stop offset="0.7829" stop-color="#052412"/><stop offset="0.8235" stop-color="#000"/></linearGradient>
<linearGradient id="bg76" gradientUnits="userSpaceOnUse" x1="700" y1="0" x2="2400" y2="0"><stop offset="0.1832" stop-color="#000"/><stop offset="0.2333" stop-color="#052b15"/><stop offset="0.2834" stop-color="#0B5229"/><stop offset="0.3351" stop-color="#0B5229"/><stop offset="0.3475" stop-color="#117a3a"/><stop offset="0.3598" stop-color="#16A04A"/><stop offset="0.7165" stop-color="#16A04A"/><stop offset="0.7294" stop-color="#117a3a"/><stop offset="0.7424" stop-color="#0B5229"/><stop offset="0.7435" stop-color="#0B5229"/><stop offset="0.7841" stop-color="#052412"/><stop offset="0.8247" stop-color="#000"/></linearGradient>
<linearGradient id="bg77" gradientUnits="userSpaceOnUse" x1="700" y1="0" x2="2400" y2="0"><stop offset="0.1828" stop-color="#000"/><stop offset="0.2332" stop-color="#052b15"/><stop offset="0.2835" stop-color="#0B5229"/><stop offset="0.3352" stop-color="#0B5229"/><stop offset="0.3475" stop-color="#117a3a"/><stop offset="0.3599" stop-color="#16A04A"/><stop offset="0.7175" stop-color="#16A04A"/><stop offset="0.7305" stop-color="#117a3a"/><stop offset="0.7434" stop-color="#0B5229"/><stop offset="0.7446" stop-color="#0B5229"/><stop offset="0.7852" stop-color="#052412"/><stop offset="0.8258" stop-color="#000"/></linearGradient>
<linearGradient id="bg78" gradientUnits="userSpaceOnUse" x1="700" y1="0" x2="2400" y2="0"><stop offset="0.1825" stop-color="#000"/><stop offset="0.2331" stop-color="#052b15"/><stop offset="0.2837" stop-color="#0B5229"/><stop offset="0.3352" stop-color="#0B5229"/><stop offset="0.3476" stop-color="#117a3a"/><stop offset="0.3599" stop-color="#16A04A"/><stop offset="0.7184" stop-color="#16A04A"/><stop offset="0.7314" stop-color="#117a3a"/><stop offset="0.7443" stop-color="#0B5229"/><stop offset="0.7455" stop-color="#0B5229"/><stop offset="0.7861" stop-color="#052412"/><stop offset="0.8266" stop-color="#000"/></linearGradient>
<linearGradient id="bg79" gradientUnits="userSpaceOnUse" x1="700" y1="0" x2="2400" y2="0"><stop offset="0.1822" stop-color="#000"/><stop offset="0.2330" stop-color="#052b15"/><stop offset="0.2838" stop-color="#0B5229"/><stop offset="0.3352" stop-color="#0B5229"/><stop offset="0.3476" stop-color="#117a3a"/><stop offset="0.3599" stop-color="#16A04A"/><stop offset="0.7192" stop-color="#16A04A"/><stop offset="0.7321" stop-color="#117a3a"/><stop offset="0.7450" stop-color="#0B5229"/><stop offset="0.7462" stop-color="#0B5229"/><stop offset="0.7868" stop-color="#052412"/><stop offset="0.8274" stop-color="#000"/></linearGradient>
</defs>
<rect width="2560" height="1920" fill="#000"/>
<g id="stars">
  <circle cx="290.5" cy="712.4" r="219" fill="url(#gBigGlow)"/>
  <circle cx="290.5" cy="712.4" r="126.3" fill="url(#gBigCore)" filter="url(#soft1)"/>
  <circle cx="293.8" cy="1059.5" r="124" fill="url(#gMidGlow)"/>
  <circle cx="293.8" cy="1059.5" r="75.8" fill="url(#gMidCore)" filter="url(#soft1)"/>
  <circle cx="292.3" cy="1320.3" r="74" fill="url(#gSmGlow)"/>
  <circle cx="292.3" cy="1320.3" r="50.7" fill="url(#gSmCore)" filter="url(#soft2)"/>
</g>

<g id="title">
<g font-size="135" fill="#F8981D" stroke="#000" stroke-width="2.2">
  <text x="179.3" y="218.6" textLength="456.0" lengthAdjust="spacingAndGlyphs">Kepler’s</text>
  <text x="668.8" y="218.6" textLength="305.1" lengthAdjust="spacingAndGlyphs">Small</text>
  <text x="1009.4" y="218.6" textLength="530.4" lengthAdjust="spacingAndGlyphs">Habitable</text>
  <text x="1568.5" y="218.6" textLength="289.9" lengthAdjust="spacingAndGlyphs">Zone</text>
  <text x="1886.9" y="218.6" textLength="412.5" lengthAdjust="spacingAndGlyphs">Planets</text>
</g>
  <text x="996.8" y="296" font-size="56.5" font-style="italic" fill="#fff" textLength="487" lengthAdjust="spacingAndGlyphs">As of May 10, 2016</text>
</g>

<g id="bands" clip-path="url(#chartClip)">
<g filter="url(#blurV)">
<rect x="700" y="300" width="1700" height="105" fill="url(#bg0)"/>
<rect x="700" y="1685" width="1700" height="120" fill="url(#bg79)"/>
<rect x="700" y="403.70" width="1700" height="16.62" fill="url(#bg0)"/>
<rect x="700" y="419.72" width="1700" height="16.62" fill="url(#bg1)"/>
<rect x="700" y="435.75" width="1700" height="16.62" fill="url(#bg2)"/>
<rect x="700" y="451.77" width="1700" height="16.62" fill="url(#bg3)"/>
<rect x="700" y="467.80" width="1700" height="16.62" fill="url(#bg4)"/>
<rect x="700" y="483.82" width="1700" height="16.62" fill="url(#bg5)"/>
<rect x="700" y="499.85" width="1700" height="16.62" fill="url(#bg6)"/>
<rect x="700" y="515.88" width="1700" height="16.62" fill="url(#bg7)"/>
<rect x="700" y="531.90" width="1700" height="16.62" fill="url(#bg8)"/>
<rect x="700" y="547.93" width="1700" height="16.62" fill="url(#bg9)"/>
<rect x="700" y="563.95" width="1700" height="16.62" fill="url(#bg10)"/>
<rect x="700" y="579.98" width="1700" height="16.62" fill="url(#bg11)"/>
<rect x="700" y="596.00" width="1700" height="16.62" fill="url(#bg12)"/>
<rect x="700" y="612.03" width="1700" height="16.62" fill="url(#bg13)"/>
<rect x="700" y="628.05" width="1700" height="16.62" fill="url(#bg14)"/>
<rect x="700" y="644.08" width="1700" height="16.62" fill="url(#bg15)"/>
<rect x="700" y="660.10" width="1700" height="16.62" fill="url(#bg16)"/>
<rect x="700" y="676.12" width="1700" height="16.62" fill="url(#bg17)"/>
<rect x="700" y="692.15" width="1700" height="16.62" fill="url(#bg18)"/>
<rect x="700" y="708.17" width="1700" height="16.62" fill="url(#bg19)"/>
<rect x="700" y="724.20" width="1700" height="16.62" fill="url(#bg20)"/>
<rect x="700" y="740.23" width="1700" height="16.62" fill="url(#bg21)"/>
<rect x="700" y="756.25" width="1700" height="16.62" fill="url(#bg22)"/>
<rect x="700" y="772.28" width="1700" height="16.62" fill="url(#bg23)"/>
<rect x="700" y="788.30" width="1700" height="16.62" fill="url(#bg24)"/>
<rect x="700" y="804.33" width="1700" height="16.62" fill="url(#bg25)"/>
<rect x="700" y="820.35" width="1700" height="16.62" fill="url(#bg26)"/>
<rect x="700" y="836.38" width="1700" height="16.62" fill="url(#bg27)"/>
<rect x="700" y="852.40" width="1700" height="16.62" fill="url(#bg28)"/>
<rect x="700" y="868.42" width="1700" height="16.62" fill="url(#bg29)"/>
<rect x="700" y="884.45" width="1700" height="16.62" fill="url(#bg30)"/>
<rect x="700" y="900.48" width="1700" height="16.62" fill="url(#bg31)"/>
<rect x="700" y="916.50" width="1700" height="16.62" fill="url(#bg32)"/>
<rect x="700" y="932.52" width="1700" height="16.62" fill="url(#bg33)"/>
<rect x="700" y="948.55" width="1700" height="16.62" fill="url(#bg34)"/>
<rect x="700" y="964.58" width="1700" height="16.62" fill="url(#bg35)"/>
<rect x="700" y="980.60" width="1700" height="16.62" fill="url(#bg36)"/>
<rect x="700" y="996.62" width="1700" height="16.62" fill="url(#bg37)"/>
<rect x="700" y="1012.65" width="1700" height="16.62" fill="url(#bg38)"/>
<rect x="700" y="1028.67" width="1700" height="16.62" fill="url(#bg39)"/>
<rect x="700" y="1044.70" width="1700" height="16.62" fill="url(#bg40)"/>
<rect x="700" y="1060.73" width="1700" height="16.62" fill="url(#bg41)"/>
<rect x="700" y="1076.75" width="1700" height="16.62" fill="url(#bg42)"/>
<rect x="700" y="1092.77" width="1700" height="16.62" fill="url(#bg43)"/>
<rect x="700" y="1108.80" width="1700" height="16.62" fill="url(#bg44)"/>
<rect x="700" y="1124.83" width="1700" height="16.62" fill="url(#bg45)"/>
<rect x="700" y="1140.85" width="1700" height="16.62" fill="url(#bg46)"/>
<rect x="700" y="1156.88" width="1700" height="16.62" fill="url(#bg47)"/>
<rect x="700" y="1172.90" width="1700" height="16.62" fill="url(#bg48)"/>
<rect x="700" y="1188.92" width="1700" height="16.62" fill="url(#bg49)"/>
<rect x="700" y="1204.95" width="1700" height="16.62" fill="url(#bg50)"/>
<rect x="700" y="1220.98" width="1700" height="16.62" fill="url(#bg51)"/>
<rect x="700" y="1237.00" width="1700" height="16.62" fill="url(#bg52)"/>
<rect x="700" y="1253.02" width="1700" height="16.62" fill="url(#bg53)"/>
<rect x="700" y="1269.05" width="1700" height="16.62" fill="url(#bg54)"/>
<rect x="700" y="1285.08" width="1700" height="16.62" fill="url(#bg55)"/>
<rect x="700" y="1301.10" width="1700" height="16.62" fill="url(#bg56)"/>
<rect x="700" y="1317.12" width="1700" height="16.62" fill="url(#bg57)"/>
<rect x="700" y="1333.15" width="1700" height="16.62" fill="url(#bg58)"/>
<rect x="700" y="1349.17" width="1700" height="16.62" fill="url(#bg59)"/>
<rect x="700" y="1365.20" width="1700" height="16.62" fill="url(#bg60)"/>
<rect x="700" y="1381.22" width="1700" height="16.62" fill="url(#bg61)"/>
<rect x="700" y="1397.25" width="1700" height="16.62" fill="url(#bg62)"/>
<rect x="700" y="1413.27" width="1700" height="16.62" fill="url(#bg63)"/>
<rect x="700" y="1429.30" width="1700" height="16.62" fill="url(#bg64)"/>
<rect x="700" y="1445.33" width="1700" height="16.62" fill="url(#bg65)"/>
<rect x="700" y="1461.35" width="1700" height="16.62" fill="url(#bg66)"/>
<rect x="700" y="1477.38" width="1700" height="16.62" fill="url(#bg67)"/>
<rect x="700" y="1493.40" width="1700" height="16.62" fill="url(#bg68)"/>
<rect x="700" y="1509.42" width="1700" height="16.62" fill="url(#bg69)"/>
<rect x="700" y="1525.45" width="1700" height="16.62" fill="url(#bg70)"/>
<rect x="700" y="1541.47" width="1700" height="16.62" fill="url(#bg71)"/>
<rect x="700" y="1557.50" width="1700" height="16.62" fill="url(#bg72)"/>
<rect x="700" y="1573.52" width="1700" height="16.62" fill="url(#bg73)"/>
<rect x="700" y="1589.55" width="1700" height="16.62" fill="url(#bg74)"/>
<rect x="700" y="1605.58" width="1700" height="16.62" fill="url(#bg75)"/>
<rect x="700" y="1621.60" width="1700" height="16.62" fill="url(#bg76)"/>
<rect x="700" y="1637.62" width="1700" height="16.62" fill="url(#bg77)"/>
<rect x="700" y="1653.65" width="1700" height="16.62" fill="url(#bg78)"/>
<rect x="700" y="1669.67" width="1700" height="16.62" fill="url(#bg79)"/>
</g></g>
<rect x="734.65" y="404.15" width="1625.3999999999999" height="1281.7" fill="none" stroke="#93DEF5" stroke-width="8.3"/>
<path d="M927.2 408.3v11M927.2 1681.7v-12M1258.3 408.3v11M1258.3 1681.7v-12M1308.6 408.3v11M1308.6 1681.7v-12M1364.9 408.3v11M1364.9 1681.7v-12M1428.7 408.3v11M1428.7 1681.7v-12M1502.3 408.3v11M1502.3 1681.7v-12M1589.4 408.3v11M1589.4 1681.7v-12M1696.0 408.3v11M1696.0 1681.7v-12M1833.5 408.3v11M1833.5 1681.7v-12M2027.2 408.3v11M2027.2 1681.7v-12M738.8 503.0h11M2355.8999999999996 503.0h-11M738.8 840.6h11M2355.8999999999996 840.6h-11M738.8 1178.1h11M2355.8999999999996 1178.1h-11M738.8 1515.7h11M2355.8999999999996 1515.7h-11" stroke="#fff" stroke-width="4.6" fill="none"/>
<g id="axes" fill="#fff" stroke="#000" stroke-width="1.1">
  <text x="711.5" y="527.2" font-size="52" text-anchor="end" textLength="113.5" lengthAdjust="spacingAndGlyphs">6500</text>
  <text x="711.5" y="864.8" font-size="52" text-anchor="end" textLength="113.5" lengthAdjust="spacingAndGlyphs">5500</text>
  <text x="711.5" y="1202.3" font-size="52" text-anchor="end" textLength="113.5" lengthAdjust="spacingAndGlyphs">4500</text>
  <text x="711.5" y="1539.9" font-size="52" text-anchor="end" textLength="113.5" lengthAdjust="spacingAndGlyphs">3500</text>
  <text x="1253" y="1750.8" font-size="51" text-anchor="middle" textLength="68.5" lengthAdjust="spacingAndGlyphs">1.0</text>
  <text x="2349" y="1750.8" font-size="51" text-anchor="middle" textLength="64.5" lengthAdjust="spacingAndGlyphs">0.1</text>
  <text x="1520.6" y="1820.9" font-size="68" text-anchor="middle" textLength="738" lengthAdjust="spacingAndGlyphs" stroke-width="1.4">Energy Received by Planet</text>
  <text transform="translate(557.5 1041.5) rotate(-90)" font-size="68" text-anchor="middle" textLength="786" lengthAdjust="spacingAndGlyphs" stroke-width="1.4">Surface Temperature of Star</text>
</g>

<g id="planets">
<g fill="#29ABE2" stroke="#000">
<circle cx="1074.8" cy="703.85" r="43.06" stroke-width="2.48"/>
<circle cx="1208.3" cy="754.75" r="40.05" stroke-width="2.31"/>
<circle cx="1104.4" cy="828.6" r="50.35" stroke-width="2.90"/>
<circle cx="1177.2" cy="1035.1" r="39.46" stroke-width="2.27"/>
<circle cx="1248.5" cy="1044.8" r="46.46" stroke-width="2.68"/>
<circle cx="1674.1" cy="1035.5" r="34.89" stroke-width="2.01"/>
<circle cx="1140.3" cy="1176.0" r="45.49" stroke-width="2.62"/>
<circle cx="1411.8" cy="1212.2" r="33.15" stroke-width="1.91"/>
<circle cx="1096.2" cy="1302.2" r="46.17" stroke-width="2.66"/>
<circle cx="1186.5" cy="1261.7" r="47.43" stroke-width="2.73"/>
<circle cx="1382.8" cy="1305.9" r="46.75" stroke-width="2.69"/>
<circle cx="1850.1" cy="1224.8" r="48.31" stroke-width="2.78"/>
<circle cx="1292.5" cy="1380.2" r="39.85" stroke-width="2.30"/>
<circle cx="1091.4" cy="1435.5" r="37.13" stroke-width="2.14"/>
<circle cx="1129.6" cy="1432.9" r="25.47" stroke-width="1.47"/>
<circle cx="1133.0" cy="1383.2" r="49.86" stroke-width="2.87"/>
<circle cx="1485.2" cy="1436.0" r="44.52" stroke-width="2.56"/>
<circle cx="1472.9" cy="1484.0" r="48.31" stroke-width="2.78"/>
<circle cx="1759.5" cy="1440.4" r="28.38" stroke-width="1.64"/>
<circle cx="1905.2" cy="1430.4" r="28.77" stroke-width="1.66"/>
<circle cx="1148.3" cy="1555.4" r="39.46" stroke-width="2.27"/>
</g>
<g id="solar">
<g id="venus">
<circle cx="953.2" cy="748.2" r="24.9" fill="#000"/>
<g clip-path="url(#venusClip)">
<path d="M953.2 722.3000000000001A25.9 25.9 0 0 0 953.2 774.1A17.43 25.9 0 0 0 953.2 722.3000000000001Z" fill="url(#gVenusL)" filter="url(#vblur)"/>
<circle cx="953.2" cy="748.2" r="25.2" fill="url(#gVenusR)"/>
</g>
</g>
<g id="earth">
<circle cx="1263.3" cy="748.3" r="26.5" fill="#080620"/>
<g clip-path="url(#earthClip)">
<circle cx="1263.3" cy="748.3" r="26.3" fill="url(#gEarthSea)"/>
<g filter="url(#eblur)">
<path d="M1256.3 731.0Q1253.9 730.3 1257.8 728.1Q1261.6 725.9 1266.5 725.9Q1271.3 725.9 1274.7 728.1Q1278.0 730.3 1279.5 732.7Q1280.9 735.1 1279.5 735.6Q1278.0 736.0 1275.6 736.8Q1273.2 737.5 1270.8 737.0Q1268.4 736.5 1266.5 735.1Q1264.5 733.6 1261.6 732.7Q1258.8 731.7 1256.3 731.0Z" fill="#a9a096"/>
<path d="M1253.9 735.8Q1252.0 732.7 1255.4 731.9Q1258.8 731.2 1261.6 732.2Q1264.5 733.1 1266.5 734.6Q1268.4 736.0 1270.8 736.5Q1273.2 737.0 1275.6 736.0Q1278.0 735.1 1279.2 737.0Q1280.4 738.9 1280.2 741.8Q1280.0 744.7 1278.5 746.6Q1277.1 748.6 1275.1 747.6Q1273.2 746.6 1272.3 745.2Q1271.3 743.8 1269.8 744.2Q1268.4 744.7 1267.4 746.6Q1266.5 748.6 1265.0 750.3Q1263.6 751.9 1262.1 750.7Q1260.7 749.5 1260.4 747.4Q1260.2 745.2 1259.5 743.5Q1258.8 741.8 1257.3 740.4Q1255.9 738.9 1253.9 735.8Z" fill="#cbb08a"/>
<path d="M1254.4 735.1Q1253.9 733.1 1256.8 732.4Q1259.7 731.7 1262.1 732.9Q1264.5 734.1 1264.1 736.0Q1263.6 738.0 1261.2 738.4Q1258.8 738.9 1256.8 738.0Q1254.9 737.0 1254.4 735.1Z" fill="#d99a68"/>
<path d="M1239.3 736.5Q1240.9 733.1 1243.8 732.2Q1246.7 731.2 1249.3 731.9Q1252.0 732.7 1253.4 734.3Q1254.9 736.0 1253.4 737.5Q1252.0 738.9 1249.8 738.9Q1247.7 738.9 1246.7 739.9Q1245.7 740.9 1246.0 743.8Q1246.2 746.6 1247.7 747.6Q1249.1 748.6 1249.6 750.0Q1250.1 751.5 1248.1 752.4Q1246.2 753.4 1245.7 755.3Q1245.3 757.3 1244.3 757.7Q1243.3 758.2 1241.4 755.8Q1239.5 753.4 1238.4 750.0Q1237.3 746.6 1237.5 743.3Q1237.8 739.9 1239.3 736.5Z" fill="#f4d6c2"/>
<path d="M1247.9 741.1Q1248.1 738.9 1250.1 738.0Q1252.0 737.0 1253.9 738.0Q1255.9 738.9 1256.3 740.9Q1256.8 742.8 1256.3 744.7Q1255.9 746.6 1253.9 747.4Q1252.0 748.1 1250.6 747.6Q1249.1 747.1 1248.4 745.2Q1247.7 743.3 1247.9 741.1Z" fill="#f5cc7c"/>
<path d="M1266.9 748.1Q1266.5 745.2 1268.9 744.5Q1271.3 743.8 1272.5 745.2Q1273.7 746.6 1272.5 748.8Q1271.3 751.0 1269.4 751.0Q1267.4 751.0 1266.9 748.1Z" fill="#30222a"/>
<path d="M1273.7 749.5Q1273.2 746.6 1275.1 747.6Q1277.1 748.6 1277.6 751.0Q1278.0 753.4 1276.1 752.9Q1274.2 752.4 1273.7 749.5Z" fill="#26204a"/>
<path d="M1245.5 742.3Q1245.0 738.9 1245.6 739.2Q1246.2 739.4 1246.7 742.3Q1247.2 745.2 1246.6 745.4Q1246.0 745.7 1245.5 742.3Z" fill="#3b2a3a"/>
<path d="M1247.7 730.7Q1246.2 729.3 1248.1 727.1Q1250.1 724.9 1254.9 724.0Q1259.7 723.0 1263.1 723.7Q1266.5 724.5 1265.0 725.9Q1263.6 727.4 1259.7 728.3Q1255.9 729.3 1252.5 730.7Q1249.1 732.2 1247.7 730.7Z" fill="#aab2dc" opacity="0.85"/>
<path d="M1273.5 733.1Q1273.2 731.2 1275.6 732.2Q1278.0 733.1 1279.2 736.0Q1280.4 738.9 1278.8 738.9Q1277.1 738.9 1275.4 737.0Q1273.7 735.1 1273.5 733.1Z" fill="#cfcbd0" opacity="0.7"/>
<path d="M1259.7 754.1Q1258.8 752.4 1261.6 751.7Q1264.5 751.0 1267.9 751.7Q1271.3 752.4 1274.7 752.9Q1278.0 753.4 1278.5 755.3Q1279.0 757.3 1275.6 757.7Q1272.3 758.2 1269.4 757.3Q1266.5 756.3 1263.6 756.0Q1260.7 755.8 1259.7 754.1Z" fill="#b4acd0" opacity="0.75"/>
<path d="M1252.2 755.6Q1252.0 754.8 1253.9 755.1Q1255.9 755.3 1257.8 756.5Q1259.7 757.7 1259.2 758.5Q1258.8 759.2 1256.8 758.5Q1254.9 757.7 1253.7 757.0Q1252.5 756.3 1252.2 755.6Z" fill="#e6e2f2" opacity="0.9"/>
<path d="M1267.9 761.6Q1267.4 760.6 1269.4 760.9Q1271.3 761.1 1273.7 762.1Q1276.1 763.0 1275.4 763.8Q1274.7 764.5 1271.5 763.5Q1268.4 762.6 1267.9 761.6Z" fill="#cfcbe8" opacity="0.8"/>
<path d="M1239.7 754.4Q1239.5 752.4 1241.4 752.9Q1243.3 753.4 1244.8 755.3Q1246.2 757.3 1246.2 760.1Q1246.2 763.0 1244.8 762.1Q1243.3 761.1 1241.6 758.7Q1239.9 756.3 1239.7 754.4Z" fill="#f3ecec" opacity="0.9"/>
<path d="M1249.6 768.3Q1250.1 767.9 1253.0 768.6Q1255.9 769.3 1259.7 770.3Q1263.6 771.2 1265.0 772.0Q1266.5 772.7 1264.1 772.7Q1261.6 772.7 1257.8 771.7Q1253.9 770.8 1251.5 769.8Q1249.1 768.8 1249.6 768.3Z" fill="#7a68c8" opacity="0.8"/>
</g>
<rect x="1236" y="721" width="55" height="55" filter="url(#enoise)" opacity="0.55"/>
<circle cx="1263.3" cy="748.3" r="26.6" fill="url(#gEarthShade)"/>
</g></g>
<g id="mars">
<circle cx="1665" cy="748.6" r="16.6" fill="#2a1a12"/>
<circle cx="1665" cy="748.6" r="16.2" fill="url(#gMars)"/>
<g clip-path="url(#marsClip)" filter="url(#eblur)">
<path d="M1652 752q8 -4 18 3q6 4 12 3l-2 5q-10 0 -16 -4q-7 -4 -12 -1z" fill="#7a4a36" opacity="0.7"/>
<path d="M1655 741q6 -6 14 -5l-3 6q-6 0 -10 4z" fill="#c98a70" opacity="0.7"/>
<ellipse cx="1659" cy="758" rx="7" ry="4" fill="#e09684" opacity="0.7" transform="rotate(25 1659 758)"/>
<ellipse cx="1669" cy="751" rx="6" ry="4" fill="#c98550" opacity="0.6"/>
</g>
<circle cx="1665" cy="748.6" r="16.6" fill="url(#gMarsShade)"/>
</g>
</g>
<g font-size="28.6" fill="#F69A2A" stroke="#F69A2A" stroke-width="0.75" stroke-linejoin="round" filter="url(#tsh)">
<text x="979.3" y="651.3" textLength="191.0" lengthAdjust="spacingAndGlyphs">Kepler-1638b</text>
<text x="1168.3" y="819.6" textLength="174.1" lengthAdjust="spacingAndGlyphs">Kepler-452b</text>
<text x="1016.4" y="905.4" textLength="190.9" lengthAdjust="spacingAndGlyphs">Kepler-1606b</text>
<text x="1036.0" y="1043.9" textLength="155.4" lengthAdjust="spacingAndGlyphs">Kepler-62e</text>
<text x="1303.9" y="1048.6" textLength="190.9" lengthAdjust="spacingAndGlyphs">Kepler-1544b</text>
<text x="1600.3" y="994.3" textLength="147.9" lengthAdjust="spacingAndGlyphs">Kepler-62f</text>
<text x="920.0" y="1183.8" textLength="171.3" lengthAdjust="spacingAndGlyphs">Kepler-155c</text>
<text x="1329.4" y="1174.6" textLength="173.8" lengthAdjust="spacingAndGlyphs">Kepler-442b</text>
<text x="1162.4" y="1270.2" textLength="172.3" lengthAdjust="spacingAndGlyphs">Kepler-235e</text>
<text x="874.1" y="1313.4" textLength="173.3" lengthAdjust="spacingAndGlyphs">Kepler-440b</text>
<text x="1431.5" y="1315.8" textLength="171.5" lengthAdjust="spacingAndGlyphs">Kepler-283c</text>
<text x="1751.8" y="1301.8" textLength="190.5" lengthAdjust="spacingAndGlyphs">Kepler-1593b</text>
<text x="893.2" y="1383.6" textLength="190.0" lengthAdjust="spacingAndGlyphs">Kepler-1455b</text>
<text x="1336.5" y="1385.1" textLength="190.4" lengthAdjust="spacingAndGlyphs">Kepler-1410b</text>
<text x="1823.6" y="1395.0" textLength="164.0" lengthAdjust="spacingAndGlyphs">Kepler-186f</text>
<text x="881.0" y="1444.6" textLength="171.2" lengthAdjust="spacingAndGlyphs">Kepler-296e</text>
<text x="1155.6" y="1453.6" textLength="173.7" lengthAdjust="spacingAndGlyphs">Kepler-438b</text>
<text x="1530.5" y="1444.4" textLength="165.1" lengthAdjust="spacingAndGlyphs">Kepler-296f</text>
<text x="1665.9" y="1492.6" textLength="190.5" lengthAdjust="spacingAndGlyphs">Kepler-1229b</text>
<text x="1390.2" y="1554.6" textLength="173.7" lengthAdjust="spacingAndGlyphs">Kepler-705b</text>
<text x="1066.5" y="1619.2" textLength="173.7" lengthAdjust="spacingAndGlyphs">Kepler-560b</text>
</g>
<g font-size="34.8" fill="#fff" stroke="#fff" stroke-width="1.2" stroke-linejoin="round" filter="url(#tsh)">
<text x="897.0" y="713.2" textLength="120.0" lengthAdjust="spacingAndGlyphs">VENUS</text>
<text x="1199.2" y="709.8" textLength="116.3" lengthAdjust="spacingAndGlyphs">EARTH</text>
<text x="1608.3" y="709.8" textLength="103.4" lengthAdjust="spacingAndGlyphs">MARS</text>
</g>
</g>
</svg>
</body></html>
